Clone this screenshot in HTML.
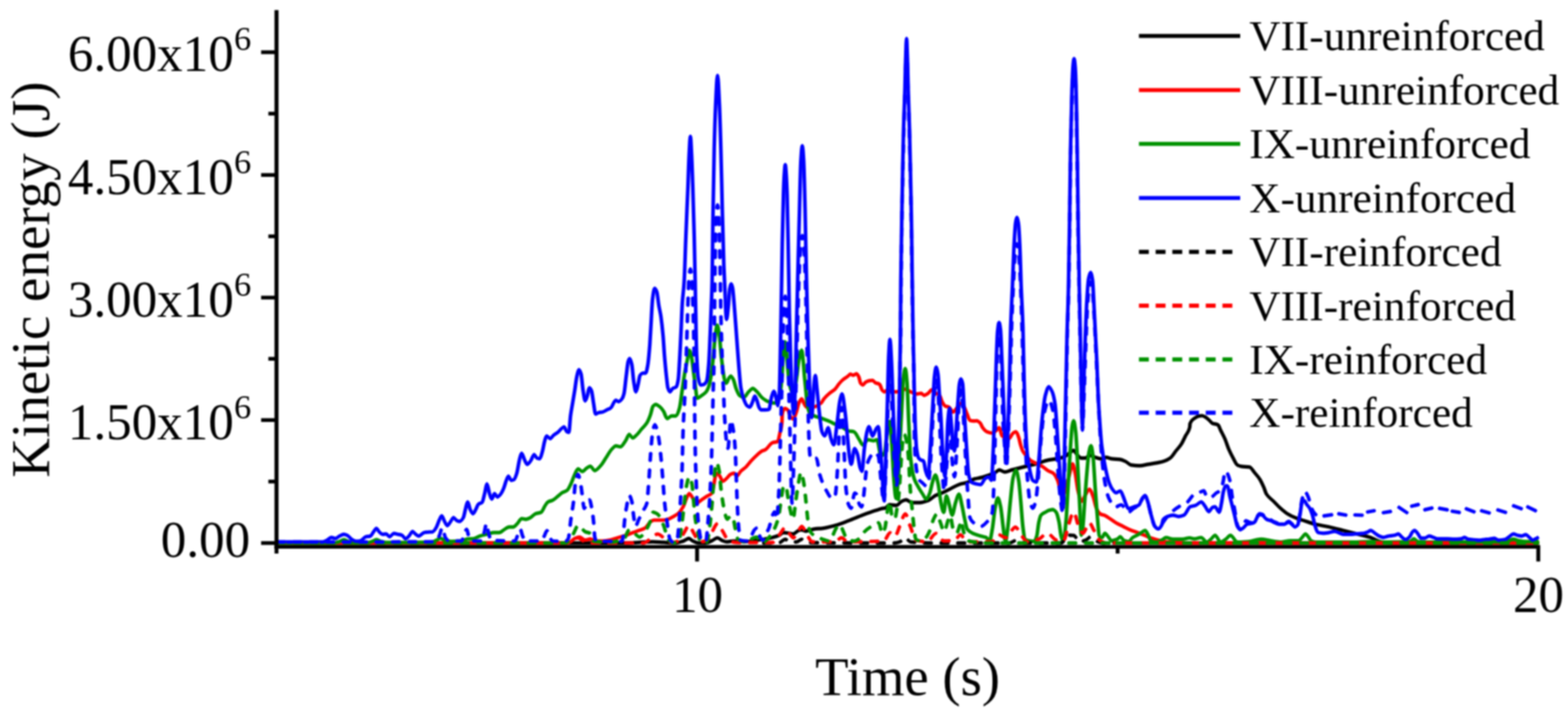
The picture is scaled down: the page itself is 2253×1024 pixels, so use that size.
<!DOCTYPE html>
<html lang="en"><head><meta charset="utf-8"><title>Kinetic energy vs time</title>
<style>html,body{margin:0;padding:0;background:#fff}body{width:2253px;height:1024px;overflow:hidden}svg{display:block;filter:blur(1px)}text{font-family:'Liberation Serif',serif;fill:#000}</style></head><body>
<svg width="2253" height="1024" viewBox="0 0 2253 1024">
<rect width="2253" height="1024" fill="#fff"/>
<g fill="none" stroke-linejoin="round" stroke-linecap="butt" stroke-width="3.0">
<g id="KS">
<path d="M397.5 779.9C565.0 779.9 732.5 779.9 900.0 779.9C903.3 779.9 906.6 779.5 909.9 779.4C919.2 778.9 928.5 778.2 937.8 778.2C943.2 778.2 948.5 778.7 953.8 778.9C959.2 779.2 964.5 779.9 969.8 779.9C973.8 779.9 977.8 778.4 981.8 777.1C984.5 776.2 987.1 773.4 989.8 773.4C991.8 773.4 993.8 776.2 995.8 777.1C998.4 778.3 1001.1 779.9 1003.8 779.9C1007.1 779.9 1010.4 779.9 1013.7 779.9C1017.1 779.9 1020.4 777.6 1023.7 776.2C1026.1 775.1 1028.4 772.5 1030.7 772.5C1033.0 772.5 1035.4 775.2 1037.7 776.2C1039.7 777.0 1041.7 778.2 1043.7 778.2C1047.0 778.2 1050.4 777.1 1053.7 777.1C1059.0 777.1 1064.3 777.8 1069.7 777.8C1076.3 777.8 1083.0 776.4 1089.6 775.5C1096.3 774.6 1103.0 773.6 1109.6 772.0C1112.9 771.2 1116.3 770.3 1119.6 768.8C1121.6 767.9 1123.6 764.8 1125.6 764.8C1128.2 764.8 1130.9 765.4 1133.6 765.8C1135.6 766.1 1137.6 766.8 1139.6 766.8C1142.2 766.8 1144.9 762.7 1147.6 761.8C1148.9 761.3 1150.2 760.8 1151.5 760.8C1153.5 760.8 1155.5 762.8 1157.5 762.8C1161.5 762.8 1165.5 760.3 1169.5 759.8C1173.5 759.3 1177.5 759.2 1181.5 758.8C1187.5 758.1 1193.5 756.4 1199.5 754.8C1206.1 753.0 1212.8 750.3 1219.5 747.8C1226.1 745.3 1232.8 742.3 1239.4 739.8C1246.1 737.3 1252.7 734.9 1259.4 732.8C1262.9 731.7 1266.5 729.8 1270.0 729.8C1270.5 729.8 1270.9 729.8 1271.4 729.8C1273.6 729.8 1275.8 724.8 1278.0 724.8C1281.3 724.8 1284.6 725.8 1288.0 725.8C1290.6 725.8 1293.3 721.0 1296.0 719.8C1298.0 718.9 1300.0 717.8 1302.0 717.8C1304.6 717.8 1307.3 721.8 1309.9 721.8C1313.9 721.8 1317.9 721.8 1321.9 721.8C1325.9 721.8 1329.9 720.3 1333.9 718.8C1337.2 717.6 1340.6 713.5 1343.9 711.8C1347.2 710.1 1350.6 709.3 1353.9 707.8C1357.9 706.1 1361.9 703.9 1365.9 701.9C1369.9 699.9 1373.9 697.2 1377.8 695.9C1381.8 694.5 1385.8 694.2 1389.8 692.9C1393.2 691.7 1396.5 688.8 1399.8 687.9C1403.1 686.9 1406.5 686.7 1409.8 685.9C1413.8 684.9 1417.8 683.3 1421.8 681.9C1424.5 680.9 1427.1 680.2 1429.8 678.9C1431.8 677.9 1433.8 674.9 1435.8 674.9C1438.4 674.9 1441.1 677.9 1443.8 677.9C1447.1 677.9 1450.4 675.8 1453.7 674.9C1457.7 673.8 1461.7 672.9 1465.7 671.9C1469.7 670.9 1473.7 669.9 1477.7 668.9C1481.7 667.9 1485.7 667.0 1489.7 665.9C1495.0 664.4 1500.3 662.1 1505.7 660.9C1509.7 660.1 1513.7 659.7 1517.7 658.9C1521.6 658.1 1525.6 657.5 1529.6 655.9C1532.3 654.9 1535.0 651.7 1537.6 649.9C1539.3 648.8 1541.0 646.9 1542.6 646.9C1544.3 646.9 1545.9 651.3 1547.6 652.9C1549.6 654.9 1551.6 657.9 1553.6 657.9C1555.6 657.9 1557.6 657.9 1559.6 657.9C1561.6 657.9 1563.6 653.9 1565.6 653.9C1567.6 653.9 1569.6 655.3 1571.6 655.9C1574.9 657.0 1578.2 658.9 1581.6 658.9C1584.2 658.9 1586.9 656.9 1589.6 656.9C1592.2 656.9 1594.9 658.6 1597.5 658.9C1601.5 659.4 1605.5 659.3 1609.5 659.9C1612.2 660.3 1614.9 661.7 1617.5 662.9C1620.2 664.2 1622.8 667.5 1625.5 667.9C1629.5 668.5 1633.5 668.9 1637.5 668.9C1641.5 668.9 1645.5 667.6 1649.5 666.9C1653.5 666.2 1657.5 665.7 1661.5 664.9C1665.4 664.1 1669.4 663.3 1673.4 661.9C1676.1 661.0 1678.8 659.8 1681.4 657.9C1684.1 656.0 1686.7 651.3 1689.4 647.9C1692.1 644.6 1694.7 642.1 1697.4 637.9C1699.4 634.8 1701.4 630.0 1703.4 626.0C1705.4 622.0 1707.4 622.1 1709.4 614.0C1709.6 613.2 1709.8 608.5 1710.0 608.0C1712.0 602.7 1714.0 602.5 1716.0 601.0C1718.0 599.5 1720.0 598.0 1722.0 597.6C1723.6 597.3 1725.3 597.0 1727.0 597.0C1728.6 597.0 1730.3 598.1 1732.0 599.0C1734.0 600.1 1736.0 602.2 1738.0 604.0C1739.3 605.2 1740.6 607.4 1742.0 608.0C1744.6 609.1 1747.3 608.7 1749.9 610.0C1751.3 610.6 1752.6 615.3 1753.9 618.0C1755.9 622.0 1757.9 625.4 1759.9 630.0C1761.9 634.5 1763.9 641.4 1765.9 645.9C1767.9 650.5 1769.9 654.3 1771.9 657.9C1773.9 661.6 1775.9 666.8 1777.9 667.9C1779.9 669.0 1781.9 669.6 1783.9 669.9C1787.9 670.5 1791.9 670.2 1795.9 670.9C1797.9 671.2 1799.9 675.5 1801.9 677.9C1804.5 681.1 1807.2 683.7 1809.9 687.9C1811.9 691.0 1813.9 695.4 1815.9 699.9C1817.2 702.8 1818.5 707.8 1819.8 709.8C1823.2 714.9 1826.5 716.5 1829.8 719.8C1833.2 723.2 1836.5 726.9 1839.8 729.8C1843.1 732.8 1846.5 735.7 1849.8 737.8C1853.8 740.3 1857.8 742.2 1861.8 743.8C1865.8 745.4 1869.8 746.5 1873.8 747.8C1879.1 749.5 1884.4 751.5 1889.7 752.8C1896.4 754.4 1903.1 755.3 1909.7 756.8C1916.4 758.3 1923.0 760.1 1929.7 761.8C1936.3 763.4 1943.0 765.1 1949.7 766.8C1956.3 768.5 1963.0 769.7 1969.6 772.0C1973.0 773.2 1976.3 775.5 1979.6 776.6C1983.0 777.8 1986.3 779.2 1989.6 779.4C1996.4 779.7 2003.2 779.9 2010.0 779.9C2076.8 779.9 2143.6 779.9 2210.4 779.9" stroke="#000000"/>
</g>
<use href="#KS" x="1.1" y="0"/>
<use href="#KS" x="-1.1" y="0"/>
<use href="#KS" x="0" y="1.1"/>
<use href="#KS" x="0" y="-1.1"/>
<g id="RS">
<path d="M397.5 779.9C536.7 779.9 675.8 779.9 815.0 779.9C816.8 779.9 818.5 778.7 820.3 777.7C822.0 776.8 823.7 774.4 825.4 773.6C827.9 772.5 830.5 771.3 833.0 771.3C835.5 771.3 838.1 775.7 840.6 775.7C843.1 775.7 845.7 774.2 848.2 774.2C850.8 774.2 853.3 777.1 855.8 777.1C859.2 777.1 862.6 777.1 866.0 777.1C869.4 777.1 872.8 776.3 876.1 775.7C879.5 775.0 882.9 773.7 886.3 772.7C889.7 771.8 893.1 770.9 896.4 769.8C899.8 768.8 903.2 767.3 906.6 766.0C910.0 764.8 913.4 763.5 916.8 762.2C920.1 761.0 923.5 760.4 926.9 758.4C929.4 756.9 932.0 751.3 934.5 749.5C936.2 748.4 937.9 747.0 939.6 747.0C943.8 747.0 948.1 747.0 952.3 747.0C954.8 747.0 957.4 746.4 959.9 745.7C962.4 745.1 965.0 743.4 967.5 741.9C970.1 740.5 972.6 739.2 975.1 736.9C977.2 734.9 979.4 731.8 981.5 728.0C983.2 724.9 984.9 718.6 986.5 715.3C987.8 712.8 989.1 708.9 990.4 708.9C992.0 708.9 993.7 713.0 995.4 715.3C997.1 717.6 998.8 722.9 1000.5 722.9C1003.0 722.9 1005.6 719.5 1008.1 717.8C1010.7 716.1 1013.2 714.4 1015.7 712.7C1018.3 711.0 1020.8 711.1 1023.4 707.7C1024.2 706.5 1025.0 699.2 1025.9 695.0C1026.7 690.7 1027.6 683.7 1028.4 682.3C1029.3 680.9 1030.1 679.7 1031.0 679.7C1032.2 679.7 1033.5 682.9 1034.8 684.8C1036.0 686.7 1037.3 691.2 1038.6 691.2C1040.3 691.2 1042.0 688.8 1043.7 687.4C1045.8 685.6 1047.9 681.8 1050.0 681.0C1051.7 680.4 1053.4 679.7 1055.1 679.7C1056.3 679.7 1057.6 683.6 1058.9 683.6C1060.6 683.6 1062.3 678.9 1064.0 677.2C1066.5 674.6 1069.0 673.3 1071.6 670.9C1074.1 668.4 1076.6 664.7 1079.2 662.0C1081.7 659.2 1084.3 656.7 1086.8 654.4C1089.3 652.1 1091.9 649.4 1094.4 648.0C1096.2 647.1 1097.9 646.9 1099.6 645.9C1103.0 644.1 1106.3 637.3 1109.6 635.9C1112.3 634.9 1114.9 635.4 1117.6 634.0C1118.6 633.4 1119.6 626.5 1120.6 622.0C1121.6 617.4 1122.6 617.0 1123.6 606.0C1123.7 604.6 1123.8 595.4 1124.0 594.7C1125.3 588.2 1126.6 586.7 1128.0 586.7C1129.3 586.7 1130.6 587.6 1132.0 588.7C1133.3 589.9 1134.6 597.2 1135.9 598.7C1137.3 600.3 1138.6 601.7 1139.9 601.7C1141.3 601.7 1142.6 596.4 1143.9 592.7C1145.3 589.1 1146.6 581.6 1147.9 578.8C1149.3 576.0 1150.6 572.8 1151.9 572.8C1152.9 572.8 1153.9 577.0 1154.9 578.8C1156.3 581.1 1157.6 584.7 1158.9 584.7C1161.9 584.7 1164.9 584.7 1167.9 584.7C1171.9 584.7 1175.9 582.0 1179.9 578.8C1181.2 577.7 1182.6 574.4 1183.9 572.8C1186.5 569.5 1189.2 567.1 1191.9 564.8C1194.5 562.5 1197.2 561.4 1199.9 558.8C1201.9 556.8 1203.9 553.1 1205.9 550.8C1207.8 548.5 1209.8 546.4 1211.8 544.8C1213.8 543.2 1215.8 542.3 1217.8 540.8C1219.2 539.8 1220.5 537.4 1221.8 537.4C1223.2 537.4 1224.5 538.8 1225.8 538.8C1227.5 538.8 1229.2 536.8 1230.8 536.8C1231.8 536.8 1232.8 538.9 1233.8 540.8C1234.8 542.7 1235.8 549.7 1236.8 550.8C1237.8 551.9 1238.8 552.8 1239.8 552.8C1241.1 552.8 1242.5 549.6 1243.8 548.8C1245.5 547.8 1247.1 547.0 1248.8 546.8C1250.5 546.6 1252.1 546.4 1253.8 546.4C1255.1 546.4 1256.4 549.1 1257.8 549.8C1259.8 550.8 1261.8 550.6 1263.8 551.8C1265.1 552.6 1266.4 559.4 1267.8 560.8C1268.8 561.8 1269.8 562.8 1270.8 562.8C1271.8 562.8 1272.8 560.8 1273.8 560.8C1278.4 560.8 1283.1 562.8 1287.7 562.8C1291.7 562.8 1295.7 558.8 1299.7 558.8C1302.7 558.8 1305.7 561.6 1308.7 562.8C1311.7 563.9 1314.7 565.8 1317.7 565.8C1319.7 565.8 1321.7 564.8 1323.7 564.8C1325.0 564.8 1326.3 567.8 1327.7 567.8C1329.7 567.8 1331.7 566.1 1333.7 564.8C1335.3 563.7 1337.0 559.8 1338.7 559.8C1339.7 559.8 1340.7 562.0 1341.7 562.8C1344.7 565.3 1347.7 565.2 1350.6 568.8C1351.6 570.0 1352.6 574.8 1353.6 576.8C1355.0 579.4 1356.3 582.0 1357.6 582.8C1359.6 583.9 1361.6 583.7 1363.6 584.7C1365.6 585.8 1367.6 591.7 1369.6 591.7C1371.6 591.7 1373.6 586.9 1375.6 584.7C1377.6 582.6 1379.6 578.8 1381.6 578.8C1382.9 578.8 1384.3 582.3 1385.6 584.7C1386.9 587.2 1388.3 591.6 1389.6 594.7C1390.9 597.9 1392.3 603.3 1393.6 603.7C1395.6 604.4 1397.6 604.7 1399.6 604.7C1400.9 604.7 1402.2 604.3 1403.6 604.3C1405.2 604.3 1406.9 606.0 1408.6 607.7C1409.6 608.8 1410.7 612.5 1411.8 614.0C1413.8 616.7 1415.8 619.1 1417.8 620.0C1420.5 621.1 1423.1 622.0 1425.8 622.0C1427.8 622.0 1429.8 619.6 1431.8 618.0C1433.1 616.9 1434.4 614.0 1435.8 614.0C1437.1 614.0 1438.4 624.9 1439.8 626.0C1443.1 628.6 1446.4 630.0 1449.7 630.0C1451.7 630.0 1453.7 623.4 1455.7 622.0C1457.1 621.0 1458.4 620.0 1459.7 620.0C1461.1 620.0 1462.4 624.4 1463.7 628.0C1464.7 630.7 1465.7 636.7 1466.7 639.9C1467.7 643.1 1468.7 646.1 1469.7 647.9C1471.7 651.6 1473.7 653.6 1475.7 655.9C1477.7 658.2 1479.7 660.6 1481.7 661.9C1484.4 663.7 1487.0 664.6 1489.7 665.9C1492.4 667.2 1495.0 668.3 1497.7 669.9C1500.3 671.5 1503.0 674.3 1505.7 675.9C1508.3 677.5 1511.0 677.8 1513.7 679.9C1515.7 681.5 1517.7 685.3 1519.7 689.9C1521.0 693.0 1522.3 700.1 1523.6 703.9C1524.8 707.0 1525.9 712.0 1527.0 712.0C1528.7 712.0 1530.3 705.0 1532.0 700.0C1533.7 695.0 1535.3 686.2 1537.0 680.0C1538.3 675.0 1539.7 666.0 1541.0 666.0C1542.3 666.0 1543.7 674.0 1545.0 680.0C1546.3 686.0 1547.7 699.5 1549.0 705.0C1550.7 711.8 1552.3 720.0 1554.0 720.0C1555.7 720.0 1557.3 714.6 1559.0 712.0C1561.1 708.7 1563.3 702.6 1565.4 702.6C1567.1 702.6 1568.8 708.4 1570.5 712.7C1572.2 717.0 1573.9 727.0 1575.6 730.5C1577.3 734.0 1579.0 737.0 1580.7 738.0C1583.2 739.5 1585.8 739.5 1588.3 740.7C1590.9 741.9 1593.4 744.0 1596.0 745.7C1598.5 747.4 1601.0 749.3 1603.5 750.8C1606.9 752.8 1610.3 754.3 1613.7 756.0C1617.1 757.7 1620.4 759.6 1623.8 761.0C1627.2 762.4 1630.6 763.5 1634.0 764.8C1637.3 766.1 1640.7 767.3 1644.0 768.6C1647.4 769.9 1650.9 771.6 1654.3 772.8C1657.7 773.9 1661.0 775.0 1664.4 775.8C1669.6 777.0 1674.8 778.1 1680.0 778.6C1686.7 779.3 1693.3 779.9 1700.0 779.9C1870.1 779.9 2040.3 779.9 2210.4 779.9" stroke="#ff0000"/>
</g>
<use href="#RS" x="1.1" y="0"/>
<use href="#RS" x="-1.1" y="0"/>
<use href="#RS" x="0" y="1.1"/>
<use href="#RS" x="0" y="-1.1"/>
<g id="GS">
<path d="M397.5 779.9C425.0 779.9 452.5 779.9 480.0 779.8C482.3 779.8 484.7 778.8 487.0 778.1C489.3 777.3 491.7 775.2 494.0 775.2C496.0 775.2 498.0 776.8 500.0 777.5C502.7 778.4 505.3 779.8 508.0 779.8C515.3 779.8 522.7 779.6 530.0 779.2C532.0 779.1 534.0 777.6 536.0 776.9C537.7 776.3 539.3 775.2 541.0 775.2C543.0 775.2 545.0 776.9 547.0 777.5C549.7 778.2 552.3 779.2 555.0 779.2C576.7 779.2 598.3 779.1 620.0 778.6C622.3 778.6 624.7 776.8 627.0 775.8C628.9 774.9 630.8 773.2 632.7 773.2C634.8 773.2 636.9 775.2 639.0 775.8C642.0 776.6 645.0 777.5 648.0 777.5C652.7 777.5 657.3 777.3 662.0 776.9C665.3 776.7 668.7 774.2 672.0 774.0C674.5 773.9 677.1 774.0 679.6 773.9C682.9 773.7 686.3 770.8 689.6 769.8C693.6 768.5 697.6 767.8 701.6 766.8C704.2 766.1 706.9 764.8 709.6 764.8C712.2 764.8 714.9 764.8 717.5 764.8C720.2 764.8 722.9 761.2 725.5 759.8C727.5 758.7 729.5 756.8 731.5 756.8C733.5 756.8 735.5 756.8 737.5 756.8C739.5 756.8 741.5 753.7 743.5 751.8C745.5 749.8 747.5 744.8 749.5 744.8C751.5 744.8 753.5 745.8 755.5 745.8C757.5 745.8 759.5 744.7 761.5 743.8C764.1 742.6 766.8 738.8 769.5 737.8C772.1 736.8 774.8 737.0 777.5 735.8C779.5 734.9 781.5 728.7 783.4 725.8C784.8 723.9 786.1 721.6 787.4 720.8C789.4 719.7 791.4 719.7 793.4 718.8C796.1 717.6 798.8 715.0 801.4 712.8C803.5 711.2 805.6 709.0 807.6 707.7C810.2 706.1 812.7 705.9 815.2 703.9C816.9 702.5 818.6 698.5 820.3 695.0C822.0 691.5 823.7 685.8 825.4 682.3C827.1 678.8 828.8 673.4 830.5 673.4C832.6 673.4 834.7 677.2 836.8 677.2C838.9 677.2 841.0 673.4 843.1 672.1C844.8 671.1 846.5 669.6 848.2 669.6C850.3 669.6 852.5 675.9 854.6 675.9C857.5 675.9 860.5 671.6 863.5 668.3C866.0 665.5 868.5 660.7 871.1 656.9C873.6 653.1 876.1 648.1 878.7 645.5C880.8 643.3 882.9 640.4 885.0 640.4C887.1 640.4 889.3 641.7 891.4 641.7C893.9 641.7 896.4 636.4 899.0 632.8C900.7 630.4 902.4 623.9 904.1 623.9C905.8 623.9 907.4 629.0 909.1 629.0C910.8 629.0 912.5 626.7 914.2 625.2C916.8 622.9 919.3 619.3 921.8 616.3C924.4 613.3 926.9 611.4 929.4 607.4C931.1 604.8 932.8 600.6 934.5 596.0C935.8 592.5 937.1 584.7 938.3 583.3C939.6 581.9 940.9 580.8 942.1 580.8C944.2 580.8 946.4 582.8 948.5 584.6C950.2 586.0 951.9 588.3 953.6 590.9C955.2 593.5 956.9 601.1 958.6 601.1C960.7 601.1 962.9 597.3 965.0 597.3C967.1 597.3 969.2 597.3 971.3 597.3C973.0 597.3 974.7 591.7 976.4 585.8C977.7 581.5 978.9 568.9 980.2 560.5C981.5 552.0 982.7 542.4 984.0 535.1C985.2 528.2 986.4 522.7 987.6 516.8C988.6 512.0 989.6 502.9 990.6 502.9C991.6 502.9 992.6 508.3 993.6 512.8C994.6 517.4 995.6 527.3 996.6 534.8C997.5 541.5 998.4 549.1 999.2 555.4C1000.1 561.4 1000.9 571.9 1001.8 571.9C1003.9 571.9 1006.0 569.5 1008.1 568.1C1010.2 566.6 1012.4 565.5 1014.5 563.0C1015.7 561.5 1017.0 558.9 1018.3 555.4C1019.5 551.8 1020.8 545.4 1022.1 537.6C1022.9 532.6 1023.7 524.5 1024.5 516.8C1025.5 507.5 1026.5 492.6 1027.5 484.9C1028.5 477.2 1029.5 466.9 1030.5 466.9C1031.5 466.9 1032.5 474.4 1033.5 480.9C1034.5 487.4 1035.5 504.2 1036.5 512.8C1038.1 526.0 1039.6 540.7 1041.1 545.2C1042.0 547.7 1042.8 550.3 1043.7 550.3C1044.9 550.3 1046.2 544.3 1047.5 542.7C1048.3 541.6 1049.2 540.2 1050.0 540.2C1051.3 540.2 1052.5 542.8 1053.8 545.2C1055.1 547.6 1056.3 554.7 1057.6 557.9C1059.3 562.2 1061.0 566.9 1062.7 568.1C1064.8 569.5 1066.9 570.6 1069.0 570.6C1071.2 570.6 1073.3 565.0 1075.4 563.0C1077.5 561.0 1079.6 557.9 1081.7 557.9C1083.8 557.9 1086.0 561.0 1088.1 563.0C1090.2 565.0 1092.3 568.7 1094.4 570.6C1096.3 572.3 1098.1 573.7 1100.0 574.8C1101.3 575.6 1102.7 576.3 1104.0 576.8C1106.7 577.7 1109.3 578.8 1112.0 578.8C1114.0 578.8 1116.0 578.1 1118.0 576.8C1119.0 576.1 1120.0 570.4 1121.0 564.8C1121.8 559.9 1122.7 551.1 1123.6 540.8C1124.2 532.9 1124.9 515.7 1125.6 508.9C1126.4 500.6 1127.2 490.9 1128.0 490.9C1128.8 490.9 1129.6 501.4 1130.4 508.9C1131.2 516.9 1132.1 533.7 1133.0 540.8C1133.8 547.9 1134.7 553.8 1135.6 556.8C1136.7 560.7 1137.8 564.8 1138.9 564.8C1140.1 564.8 1141.2 560.7 1142.3 556.8C1143.2 553.8 1144.1 546.8 1144.9 540.8C1145.9 533.9 1146.9 521.8 1147.9 516.8C1149.3 510.2 1150.6 502.9 1151.9 502.9C1152.6 502.9 1153.3 511.0 1153.9 516.8C1154.6 522.7 1155.3 533.5 1155.9 540.8C1156.6 548.1 1157.3 554.2 1157.9 560.8C1158.6 567.6 1159.3 577.3 1160.0 581.0C1161.2 587.4 1162.4 592.4 1163.6 593.5C1169.5 598.9 1175.5 598.6 1181.4 601.0C1184.8 602.4 1188.1 603.5 1191.5 605.0C1194.0 606.1 1196.5 607.5 1199.0 608.7C1202.3 610.2 1205.7 611.4 1209.0 613.0C1212.5 614.7 1215.9 618.3 1219.4 619.0C1221.9 619.5 1224.5 619.4 1227.0 620.0C1229.6 620.6 1232.1 627.7 1234.7 631.5C1236.4 634.0 1238.0 639.0 1239.7 639.0C1242.3 639.0 1244.8 631.5 1247.4 631.5C1249.9 631.5 1252.5 633.0 1255.0 633.0C1256.7 633.0 1258.3 631.5 1260.0 631.5C1262.0 631.5 1264.0 655.0 1266.0 655.0C1267.7 655.0 1269.3 653.0 1271.0 650.0C1272.3 647.6 1273.7 627.2 1275.0 620.0C1276.2 613.7 1277.3 605.0 1278.5 605.0C1279.5 605.0 1280.5 626.3 1281.5 640.0C1282.5 653.7 1283.5 678.6 1284.5 690.0C1285.5 701.4 1286.5 716.0 1287.5 716.0C1288.5 716.0 1289.5 702.2 1290.5 690.0C1291.3 679.8 1292.2 656.7 1293.0 640.0C1293.8 623.3 1294.7 605.8 1295.5 590.0C1296.3 574.2 1297.2 552.5 1298.0 545.0C1298.9 536.9 1299.8 529.0 1300.7 529.0C1301.6 529.0 1302.4 539.5 1303.3 550.0C1304.1 559.7 1304.9 588.9 1305.7 606.0C1306.6 624.5 1307.4 648.7 1308.3 657.0C1310.0 673.3 1311.7 681.7 1313.4 687.0C1315.1 692.2 1316.7 694.4 1318.4 697.5C1320.9 702.2 1323.5 706.2 1326.0 710.0C1327.7 712.5 1329.3 717.0 1331.0 717.0C1332.7 717.0 1334.3 712.2 1336.0 708.0C1337.3 704.6 1338.7 696.1 1340.0 692.0C1341.3 687.9 1342.7 682.0 1344.0 682.0C1345.3 682.0 1346.7 689.1 1348.0 695.0C1349.3 700.9 1350.7 715.9 1352.0 722.0C1353.3 728.1 1354.7 736.0 1356.0 736.0C1357.3 736.0 1358.6 712.0 1359.9 712.0C1361.3 712.0 1362.6 720.3 1364.0 725.0C1365.3 729.6 1366.7 740.0 1368.0 740.0C1369.7 740.0 1371.3 727.0 1373.0 722.0C1374.6 717.2 1376.2 709.5 1377.8 709.5C1379.2 709.5 1380.6 719.0 1382.0 725.0C1383.3 730.4 1384.5 738.4 1385.8 744.0C1387.1 749.9 1388.5 758.2 1389.8 760.0C1392.5 763.6 1395.1 764.7 1397.8 766.0C1401.8 767.9 1405.8 768.8 1409.8 770.0C1412.5 770.8 1415.1 771.0 1417.8 772.3C1419.1 773.0 1420.5 776.9 1421.8 776.9C1423.1 776.9 1424.5 767.2 1425.8 760.0C1427.1 752.8 1428.5 736.7 1429.8 730.0C1431.1 723.3 1432.5 715.0 1433.8 715.0C1435.1 715.0 1436.5 721.8 1437.8 728.0C1439.1 734.2 1440.5 751.1 1441.8 760.0C1442.8 766.7 1443.8 777.5 1444.8 777.5C1445.8 777.5 1446.8 767.3 1447.8 760.0C1449.1 750.5 1450.4 732.1 1451.7 720.0C1453.0 707.6 1454.4 691.5 1455.7 686.0C1457.0 680.5 1458.4 675.0 1459.7 675.0C1461.0 675.0 1462.4 682.6 1463.7 690.0C1464.7 695.6 1465.7 709.1 1466.7 720.0C1467.7 730.9 1468.7 747.9 1469.7 756.0C1470.7 764.1 1471.7 773.6 1472.7 774.4C1475.0 776.2 1477.4 776.6 1479.7 776.9C1481.7 777.2 1483.7 777.5 1485.7 777.5C1487.0 777.5 1488.4 773.9 1489.7 769.8C1490.7 766.7 1491.7 754.2 1492.7 749.8C1493.7 745.4 1494.7 741.0 1495.7 739.8C1497.7 737.4 1499.7 736.9 1501.7 735.8C1503.7 734.7 1505.7 733.4 1507.7 732.8C1509.4 732.3 1511.0 731.8 1512.7 731.8C1514.4 731.8 1516.0 733.6 1517.7 735.8C1519.0 737.6 1520.4 743.6 1521.7 749.8C1522.7 754.5 1523.7 765.8 1524.7 769.8C1525.7 773.6 1526.6 778.1 1527.6 778.1C1528.9 778.1 1530.3 763.3 1531.6 749.8C1532.6 739.7 1533.6 716.5 1534.6 699.9C1535.6 683.3 1536.6 664.4 1537.6 650.0C1538.6 635.6 1539.6 617.9 1540.6 612.0C1541.3 608.1 1541.9 604.0 1542.6 604.0C1543.6 604.0 1544.6 611.9 1545.6 620.0C1546.6 628.1 1547.6 651.8 1548.6 670.0C1549.6 688.2 1550.6 710.0 1551.6 729.8C1552.3 743.0 1552.9 769.0 1553.6 769.0C1554.3 769.0 1554.9 764.2 1555.6 759.8C1556.6 753.2 1557.6 733.1 1558.6 719.8C1559.6 706.5 1560.6 691.4 1561.6 680.0C1562.6 668.6 1563.6 655.0 1564.6 650.0C1565.6 645.0 1566.6 640.0 1567.6 640.0C1568.6 640.0 1569.6 648.2 1570.6 656.0C1571.6 663.8 1572.6 686.1 1573.6 700.0C1574.6 713.9 1575.6 728.4 1576.6 739.8C1577.6 751.2 1578.6 768.7 1579.6 769.8C1580.9 771.3 1582.2 772.0 1583.6 772.0C1584.9 772.0 1586.2 765.8 1587.6 765.8C1588.9 765.8 1590.2 768.3 1591.5 769.8C1593.5 771.9 1595.5 776.6 1597.5 776.6C1600.2 776.6 1602.9 775.5 1605.5 774.3C1606.9 773.7 1608.2 770.9 1609.5 770.9C1611.5 770.9 1613.5 776.0 1615.5 776.6C1617.5 777.3 1619.5 777.8 1621.5 777.8C1623.5 777.8 1625.5 773.4 1627.5 772.0C1630.2 770.2 1632.8 769.4 1635.5 767.8C1637.5 766.6 1639.5 764.9 1641.5 763.8C1642.8 763.0 1644.1 761.8 1645.5 761.8C1646.8 761.8 1648.1 765.4 1649.5 767.8C1650.8 770.1 1652.1 775.9 1653.5 776.6C1656.1 778.1 1658.8 778.9 1661.5 778.9C1664.1 778.9 1666.8 776.8 1669.4 775.5C1671.4 774.5 1673.4 772.0 1675.4 772.0C1678.8 772.0 1682.1 774.3 1685.4 774.3C1690.1 774.3 1694.7 774.3 1699.4 774.3C1702.7 774.3 1706.1 772.5 1709.4 772.5C1711.6 772.5 1713.8 773.9 1716.0 773.9C1719.3 773.9 1722.6 772.0 1726.0 772.0C1728.6 772.0 1731.3 778.5 1734.0 778.5C1736.0 778.5 1738.0 775.9 1740.0 774.3C1742.0 772.7 1744.0 768.8 1745.9 768.8C1748.6 768.8 1751.3 778.5 1753.9 778.5C1756.6 778.5 1759.3 775.7 1761.9 773.9C1763.9 772.5 1765.9 768.8 1767.9 768.8C1771.2 768.8 1774.6 778.5 1777.9 778.5C1783.2 778.5 1788.6 778.1 1793.9 777.8C1799.9 777.4 1805.9 774.3 1811.9 774.3C1816.5 774.3 1821.2 775.9 1825.8 776.6C1830.5 777.3 1835.2 778.5 1839.8 778.5C1844.5 778.5 1849.1 776.6 1853.8 776.6C1857.8 776.6 1861.8 776.6 1865.8 776.6C1867.8 776.6 1869.8 772.9 1871.8 770.9C1873.1 769.6 1874.4 766.8 1875.8 766.8C1877.1 766.8 1878.4 769.3 1879.8 770.9C1881.1 772.5 1882.4 775.9 1883.8 776.6C1885.8 777.7 1887.8 778.5 1889.7 778.5C1896.4 778.5 1903.1 778.5 1909.7 778.5C1923.0 778.5 1936.3 778.5 1949.7 778.5C1956.3 778.5 1963.0 777.8 1969.6 777.8C1976.3 777.8 1983.0 778.5 1989.6 778.5C2001.6 778.5 2013.6 778.3 2025.6 777.8C2027.6 777.7 2029.6 773.9 2031.5 773.9C2033.5 773.9 2035.5 777.5 2037.5 777.8C2041.5 778.2 2045.5 778.5 2049.5 778.5C2062.8 778.5 2076.2 778.5 2089.5 778.5C2102.8 778.5 2116.1 778.2 2129.4 778.2C2139.6 778.2 2149.8 778.2 2160.0 778.2C2160.8 778.2 2161.7 778.1 2162.5 778.0C2164.5 777.7 2166.5 776.8 2168.5 776.2C2170.5 775.6 2172.5 774.3 2174.5 774.3C2177.1 774.3 2179.8 776.2 2182.5 776.6C2185.8 777.2 2189.1 777.8 2192.5 777.8C2198.4 777.8 2204.4 777.8 2210.4 777.5" stroke="#009200"/>
</g>
<use href="#GS" x="1.1" y="0"/>
<use href="#GS" x="-1.1" y="0"/>
<use href="#GS" x="0" y="1.1"/>
<use href="#GS" x="0" y="-1.1"/>
<g id="BS">
<path d="M397.5 778.4C419.6 778.4 441.8 778.4 463.9 778.4C465.9 778.4 467.9 776.8 469.9 775.8C471.9 774.7 473.9 771.8 475.9 771.8C477.9 771.8 479.9 773.4 481.9 773.4C483.9 773.4 485.9 770.7 487.9 769.8C489.9 768.8 491.9 767.4 493.9 767.4C495.5 767.4 497.2 768.1 498.8 768.8C501.2 769.7 503.5 773.4 505.8 774.8C507.8 775.9 509.8 777.4 511.8 777.4C513.8 777.4 515.8 777.1 517.8 776.8C520.5 776.3 523.1 771.2 525.8 770.8C527.8 770.4 529.8 770.5 531.8 770.2C533.5 769.8 535.1 765.9 536.8 763.8C538.1 762.1 539.5 758.8 540.8 758.8C542.1 758.8 543.5 762.5 544.8 763.8C546.4 765.3 548.1 767.4 549.8 767.4C551.4 767.4 553.1 766.8 554.8 766.8C556.4 766.8 558.1 770.8 559.8 770.8C561.8 770.8 563.8 766.2 565.8 766.2C567.8 766.2 569.7 766.9 571.7 767.4C573.7 767.8 575.7 768.0 577.7 768.8C579.4 769.4 581.1 773.8 582.7 773.8C584.4 773.8 586.1 771.4 587.7 769.8C589.4 768.1 591.1 763.4 592.7 763.4C594.0 763.4 595.4 765.8 596.7 766.8C598.4 767.9 600.0 769.8 601.7 769.8C604.4 769.8 607.0 765.2 609.7 764.8C611.7 764.4 613.7 764.3 615.7 764.2C617.7 764.0 619.7 764.0 621.7 763.8C623.3 763.6 625.0 760.4 626.7 757.8C628.3 755.1 630.0 749.0 631.7 745.8C632.7 743.9 633.7 740.8 634.7 740.8C636.0 740.8 637.3 746.5 638.7 748.8C640.0 751.1 641.3 754.8 642.6 754.8C644.3 754.8 646.0 750.9 647.6 748.8C649.0 747.1 650.3 743.4 651.6 743.4C653.3 743.4 655.0 747.2 656.6 747.8C658.0 748.3 659.3 748.8 660.6 748.8C662.3 748.8 663.9 746.5 665.6 743.8C666.9 741.6 668.3 732.3 669.6 727.8C670.4 725.2 671.2 720.8 672.0 720.8C673.2 720.8 674.4 729.4 675.6 731.8C676.9 734.5 678.3 737.8 679.6 737.8C680.9 737.8 682.3 734.1 683.6 731.8C684.9 729.5 686.3 724.7 687.6 723.8C689.2 722.7 690.9 723.1 692.6 721.8C693.9 720.8 695.2 713.0 696.6 707.8C697.6 704.0 698.6 694.9 699.6 694.9C700.9 694.9 702.2 706.1 703.6 709.8C704.6 712.7 705.6 716.8 706.6 716.8C707.9 716.8 709.2 708.8 710.6 708.8C711.9 708.8 713.2 713.8 714.5 713.8C715.9 713.8 717.2 712.2 718.5 710.8C720.2 709.1 721.9 705.6 723.5 701.9C724.9 698.8 726.2 693.0 727.5 689.9C728.5 687.5 729.5 683.9 730.5 683.9C731.9 683.9 733.2 689.9 734.5 689.9C735.8 689.9 737.2 689.5 738.5 688.9C739.8 688.3 741.2 684.0 742.5 679.9C743.8 675.8 745.2 664.9 746.5 659.9C747.5 656.2 748.5 650.9 749.5 650.9C750.8 650.9 752.2 657.3 753.5 659.9C754.8 662.5 756.2 666.9 757.5 666.9C759.1 666.9 760.8 664.1 762.5 661.9C764.1 659.8 765.8 652.9 767.5 652.9C768.8 652.9 770.1 657.4 771.5 657.9C772.8 658.5 774.1 658.9 775.5 658.9C776.8 658.9 778.1 652.6 779.5 647.9C780.5 644.4 781.5 637.3 782.5 634.0C783.4 630.6 784.4 626.0 785.4 626.0C787.1 626.0 788.8 630.0 790.4 630.0C792.1 630.0 793.8 626.3 795.4 625.0C797.4 623.4 799.4 622.6 801.4 621.0C803.4 619.4 805.4 616.5 807.4 615.0C808.4 614.2 809.4 613.0 810.4 613.0C811.7 613.0 813.1 619.2 814.4 620.0C815.4 620.5 816.4 621.0 817.4 621.0C818.2 621.0 819.0 602.9 819.8 596.7C820.8 589.2 821.8 584.7 822.8 578.8C823.8 572.8 824.8 567.1 825.8 560.8C826.8 554.5 827.8 545.2 828.8 540.8C829.8 536.4 830.8 530.8 831.8 530.8C832.8 530.8 833.8 533.6 834.8 536.8C835.8 540.0 836.8 554.6 837.8 560.8C838.8 566.9 839.8 575.8 840.8 575.8C841.8 575.8 842.8 571.7 843.8 568.8C844.8 565.8 845.8 556.8 846.8 556.8C847.8 556.8 848.8 558.6 849.8 560.8C850.8 563.0 851.8 573.1 852.8 578.8C853.8 584.4 854.8 594.7 855.8 594.7C857.1 594.7 858.4 593.1 859.8 592.7C861.8 592.2 863.8 592.2 865.8 591.7C867.8 591.2 869.8 589.7 871.8 588.7C873.8 587.7 875.8 587.4 877.8 585.7C879.1 584.7 880.4 580.8 881.7 578.8C882.7 577.3 883.7 574.8 884.7 574.8C886.1 574.8 887.4 576.8 888.7 576.8C890.4 576.8 892.1 574.9 893.7 572.8C894.7 571.5 895.7 568.8 896.7 564.8C897.7 560.8 898.7 548.5 899.7 540.8C900.7 533.2 901.7 521.9 902.7 518.8C903.4 516.8 904.0 514.8 904.7 514.8C905.7 514.8 906.7 518.8 907.7 522.8C908.7 526.9 909.7 542.7 910.7 548.8C911.7 554.9 912.7 562.8 913.7 562.8C914.7 562.8 915.7 556.7 916.7 552.8C917.7 548.9 918.7 540.1 919.7 538.8C921.0 537.0 922.4 535.8 923.7 535.8C925.0 535.8 926.3 535.8 927.7 535.8C928.7 535.8 929.7 530.2 930.7 524.8C931.7 519.5 932.7 507.7 933.7 494.9C934.3 486.3 935.0 471.9 935.7 460.9C936.3 449.9 937.0 434.2 937.7 429.0C938.7 421.1 939.7 414.0 940.7 414.0C941.7 414.0 942.7 416.3 943.7 419.0C944.7 421.6 945.7 433.0 946.7 439.0C947.7 444.9 948.7 448.3 949.7 454.9C950.6 461.5 951.6 470.0 952.6 480.9C953.3 488.1 954.0 500.7 954.6 508.9C955.6 521.1 956.6 531.8 957.6 540.8C958.3 546.8 959.0 554.6 959.6 556.8C960.6 560.1 961.6 562.8 962.6 562.8C964.0 562.8 965.3 558.6 966.6 557.8C968.3 556.8 970.0 557.1 971.6 555.8C972.6 555.0 973.6 550.9 974.6 544.8C975.3 540.7 975.9 526.3 976.6 514.8C977.3 503.4 977.9 489.1 978.6 474.9C979.2 462.5 979.8 443.9 980.4 435.0C981.3 421.2 982.2 419.3 983.0 405.0C983.9 392.3 984.6 360.5 985.5 340.0C986.4 315.3 987.4 294.2 988.4 270.0C989.0 254.5 989.6 233.6 990.2 222.0C990.8 210.7 991.4 195.5 992.0 195.5C992.6 195.5 993.1 210.8 993.7 222.0C994.3 233.7 994.9 252.4 995.5 270.0C996.1 290.9 996.9 311.6 997.5 340.0C998.0 357.6 998.4 382.3 998.9 405.0C999.2 422.5 999.5 444.1 999.9 460.0C1000.2 479.0 1000.6 500.9 1001.0 510.0C1001.8 526.6 1002.5 537.9 1003.2 542.0C1004.4 548.3 1005.5 553.0 1006.6 553.0C1008.3 553.0 1009.9 552.6 1011.6 552.0C1012.9 551.5 1014.2 550.0 1015.5 547.0C1016.4 544.9 1017.3 535.7 1018.2 525.0C1018.9 517.2 1019.6 500.3 1020.2 485.0C1020.8 473.5 1021.2 458.3 1021.8 445.0C1022.2 431.7 1022.8 425.3 1023.2 405.0C1023.6 390.1 1024.0 344.7 1024.3 320.0C1025.0 279.7 1025.5 238.8 1026.2 215.0C1026.9 185.9 1027.6 165.3 1028.3 150.0C1029.2 131.6 1030.1 108.0 1031.0 108.0C1031.9 108.0 1032.8 131.6 1033.7 150.0C1034.4 165.3 1035.1 189.4 1035.8 215.0C1036.5 238.3 1037.2 273.8 1037.8 300.0C1038.6 328.8 1039.3 359.1 1040.0 380.0C1040.7 398.1 1041.3 411.7 1042.0 425.0C1042.5 437.6 1043.2 459.0 1043.8 459.0C1044.7 459.0 1045.6 448.3 1046.5 440.0C1047.2 434.0 1047.8 418.8 1048.5 415.0C1049.2 411.2 1049.8 407.5 1050.5 407.5C1051.2 407.5 1051.8 410.2 1052.5 413.0C1053.5 417.2 1054.5 433.1 1055.5 444.9C1056.5 456.8 1057.5 471.6 1058.5 484.9C1059.5 498.2 1060.5 513.0 1061.5 524.8C1062.5 536.7 1063.5 550.8 1064.5 556.8C1065.8 564.7 1067.2 569.2 1068.5 572.8C1070.1 577.3 1071.8 581.4 1073.5 582.8C1074.8 583.8 1076.1 584.7 1077.5 584.7C1078.8 584.7 1080.1 579.8 1081.5 576.8C1082.5 574.5 1083.5 568.8 1084.5 568.8C1085.5 568.8 1086.5 572.3 1087.5 574.8C1088.5 577.3 1089.5 582.8 1090.5 584.7C1091.5 586.7 1092.5 588.7 1093.4 588.7C1095.4 588.7 1097.4 588.7 1099.4 588.7C1101.4 588.7 1103.4 588.6 1105.4 587.7C1105.6 587.7 1105.8 585.7 1106.0 584.7C1107.0 579.4 1108.0 572.0 1109.0 568.8C1110.0 565.5 1111.0 561.8 1112.0 561.8C1113.0 561.8 1114.0 567.1 1115.0 570.8C1115.8 573.9 1116.7 582.8 1117.6 582.8C1118.3 582.8 1119.1 575.6 1119.8 565.0C1120.2 559.5 1120.6 536.8 1121.0 520.0C1121.4 499.6 1121.9 475.2 1122.3 450.0C1122.9 419.4 1123.5 378.4 1124.0 350.0C1124.6 323.3 1125.1 295.8 1125.7 280.0C1126.1 266.0 1126.6 254.2 1127.1 248.0C1127.5 242.5 1127.9 236.3 1128.3 236.3C1128.7 236.3 1129.1 242.5 1129.5 248.0C1130.0 254.2 1130.5 266.0 1131.0 280.0C1131.5 295.8 1132.0 323.3 1132.5 350.0C1133.1 378.4 1133.7 425.0 1134.2 450.0C1134.9 479.5 1135.6 500.8 1136.2 520.0C1136.9 539.7 1137.6 559.4 1138.3 570.0C1139.0 581.4 1139.8 595.0 1140.5 595.0C1141.2 595.0 1141.8 577.0 1142.5 560.0C1143.1 545.1 1143.7 504.9 1144.2 480.0C1144.9 451.5 1145.6 426.7 1146.2 400.0C1147.1 366.7 1147.9 330.8 1148.8 300.0C1149.4 275.0 1150.1 240.8 1150.8 230.0C1151.5 219.2 1152.1 209.0 1152.8 209.0C1153.4 209.0 1154.1 219.4 1154.7 230.0C1155.4 241.2 1156.1 272.3 1156.8 300.0C1157.4 327.2 1158.1 370.4 1158.8 400.0C1159.4 429.6 1160.1 457.1 1160.8 480.0C1161.4 502.9 1162.1 522.3 1162.8 540.0C1163.3 555.5 1163.9 573.7 1164.5 582.0C1165.1 590.5 1165.7 600.0 1166.3 600.0C1167.2 600.0 1168.1 569.6 1169.0 560.0C1169.8 551.1 1170.7 539.0 1171.5 539.0C1172.3 539.0 1173.2 552.4 1174.0 560.0C1175.0 569.1 1176.0 581.4 1177.0 590.0C1178.3 601.5 1179.7 616.7 1181.0 620.0C1182.3 623.3 1183.7 626.0 1185.0 626.0C1186.7 626.0 1188.3 614.0 1190.0 614.0C1191.3 614.0 1192.7 626.2 1194.0 630.0C1195.3 633.8 1196.7 639.0 1198.0 639.0C1199.7 639.0 1201.3 618.1 1203.0 606.0C1204.3 596.8 1205.5 581.6 1206.8 575.7C1207.8 571.0 1208.8 565.5 1209.8 565.5C1211.3 565.5 1212.9 581.2 1214.4 593.0C1215.6 602.3 1216.8 618.9 1218.0 631.0C1218.9 640.0 1219.8 651.7 1220.7 657.0C1221.5 661.5 1222.2 667.0 1223.0 667.0C1224.7 667.0 1226.3 644.0 1228.0 644.0C1229.3 644.0 1230.7 648.2 1232.0 652.0C1233.3 655.8 1234.7 668.3 1236.0 672.0C1236.8 674.3 1237.7 677.0 1238.5 677.0C1239.7 677.0 1240.8 652.8 1242.0 644.0C1243.3 633.9 1244.7 623.6 1246.0 619.0C1246.9 616.0 1247.7 612.5 1248.6 612.5C1250.3 612.5 1252.0 626.4 1253.7 626.4C1255.4 626.4 1257.1 618.4 1258.8 616.0C1259.9 614.5 1260.9 612.5 1262.0 612.5C1263.0 612.5 1264.0 631.9 1265.0 644.0C1265.9 654.9 1266.8 668.6 1267.7 682.0C1268.5 693.4 1269.2 718.0 1270.0 718.0C1270.9 718.0 1271.8 681.3 1272.7 657.0C1273.5 636.3 1274.2 607.3 1275.0 581.0C1275.7 558.2 1276.3 522.9 1277.0 510.0C1277.6 499.0 1278.1 487.0 1278.7 487.0C1279.5 487.0 1280.2 505.5 1281.0 520.0C1281.8 535.7 1282.7 568.5 1283.5 590.0C1284.3 611.5 1285.2 633.8 1286.0 650.0C1286.8 666.2 1287.7 691.0 1288.5 691.0C1289.2 691.0 1289.8 660.8 1290.5 640.0C1291.2 619.2 1291.8 593.4 1292.5 560.0C1292.9 539.1 1293.3 516.7 1293.8 480.0C1294.0 462.4 1294.1 423.3 1294.3 405.0C1294.8 362.3 1295.3 337.0 1295.8 310.0C1296.3 279.2 1296.8 255.2 1297.3 230.0C1297.7 214.3 1298.0 197.4 1298.3 185.0C1299.0 162.8 1299.5 150.4 1300.2 130.0C1300.6 115.0 1301.0 92.3 1301.5 80.0C1301.8 69.6 1302.2 55.0 1302.6 55.0C1303.0 55.0 1303.3 69.6 1303.7 80.0C1304.2 92.3 1304.6 115.0 1305.0 130.0C1305.6 150.4 1306.2 162.8 1306.8 185.0C1307.2 197.4 1307.5 214.3 1307.8 230.0C1308.4 255.2 1308.9 279.2 1309.5 310.0C1309.9 337.0 1310.4 374.7 1310.8 405.0C1311.2 431.0 1311.6 458.2 1312.0 480.0C1312.5 504.5 1313.0 525.1 1313.4 545.0C1313.9 568.6 1314.5 596.8 1315.0 610.0C1315.7 626.6 1316.3 640.2 1317.0 645.0C1318.0 652.2 1319.0 656.7 1320.0 658.0C1321.3 659.8 1322.7 660.4 1324.0 661.0C1325.0 661.5 1326.0 661.4 1327.0 662.0C1328.0 662.6 1329.0 672.7 1330.0 676.0C1331.2 679.9 1332.4 685.0 1333.6 685.0C1334.4 685.0 1335.2 666.5 1336.0 655.0C1336.9 642.1 1337.8 624.3 1338.7 609.0C1339.4 597.7 1340.0 586.3 1340.7 575.0C1341.4 563.7 1342.0 546.6 1342.7 541.0C1343.6 533.7 1344.4 527.0 1345.3 527.0C1346.1 527.0 1346.9 531.8 1347.7 537.0C1348.4 541.4 1349.0 555.3 1349.7 565.0C1350.5 576.2 1351.2 586.8 1352.0 600.0C1352.8 614.4 1353.7 638.3 1354.5 650.0C1355.6 665.5 1356.7 685.0 1357.8 685.0C1358.5 685.0 1359.3 663.7 1360.0 650.0C1360.7 637.5 1361.3 612.7 1362.0 605.0C1362.8 595.4 1363.7 586.0 1364.5 586.0C1365.3 586.0 1366.2 601.1 1367.0 610.0C1367.8 618.9 1368.7 635.1 1369.5 640.0C1370.2 643.9 1370.8 648.0 1371.5 648.0C1372.3 648.0 1373.2 626.8 1374.0 615.0C1374.9 602.7 1375.7 586.6 1376.6 575.0C1377.3 566.1 1377.9 554.6 1378.6 551.0C1379.3 547.4 1379.9 544.0 1380.6 544.0C1381.5 544.0 1382.3 546.9 1383.2 551.0C1383.9 554.5 1384.7 577.8 1385.4 590.0C1386.5 607.8 1387.5 624.7 1388.6 640.0C1389.6 654.4 1390.6 674.6 1391.6 680.0C1392.9 686.8 1394.1 691.5 1395.4 692.4C1397.9 694.1 1400.5 694.5 1403.0 695.0C1405.1 695.5 1407.2 696.0 1409.3 696.0C1411.4 696.0 1413.6 688.3 1415.7 687.0C1417.4 686.0 1419.1 685.0 1420.8 685.0C1422.1 685.0 1423.3 690.0 1424.6 690.0C1425.4 690.0 1426.2 666.7 1427.0 650.0C1427.7 636.1 1428.3 614.2 1429.0 595.0C1429.5 580.6 1430.0 565.2 1430.5 550.0C1430.9 536.8 1431.4 520.8 1431.8 510.0C1432.4 495.9 1432.9 480.3 1433.5 475.0C1434.2 468.7 1434.8 463.0 1435.5 463.0C1436.2 463.0 1436.8 467.6 1437.5 473.0C1438.2 478.4 1438.8 499.8 1439.5 515.0C1440.2 530.2 1440.8 547.5 1441.5 565.0C1442.2 582.5 1442.8 605.4 1443.5 620.0C1444.3 638.3 1445.2 665.0 1446.0 665.0C1446.8 665.0 1447.7 631.1 1448.5 609.0C1449.2 591.3 1449.8 569.5 1450.5 545.0C1451.1 523.6 1451.7 488.3 1452.2 470.0C1453.1 443.9 1453.9 430.0 1454.8 410.0C1455.6 390.0 1456.4 365.1 1457.2 350.0C1457.9 337.7 1458.6 324.4 1459.3 320.0C1459.9 315.9 1460.6 312.0 1461.2 312.0C1461.9 312.0 1462.5 315.8 1463.2 320.0C1463.9 324.2 1464.6 336.6 1465.2 350.0C1465.9 363.2 1466.6 392.1 1467.2 410.0C1468.1 432.3 1468.9 443.9 1469.8 470.0C1470.3 488.3 1470.9 523.6 1471.5 545.0C1472.2 569.5 1472.8 593.9 1473.5 609.0C1474.3 627.9 1475.2 644.1 1476.0 652.0C1477.3 664.7 1478.7 671.3 1480.0 677.0C1481.3 682.7 1482.7 688.9 1484.0 690.0C1485.8 691.5 1487.5 692.4 1489.3 692.4C1490.5 692.4 1491.8 670.5 1493.0 657.0C1494.3 642.5 1495.7 618.8 1497.0 606.0C1498.7 590.0 1500.3 574.3 1502.0 568.0C1503.7 561.7 1505.3 555.4 1507.0 555.4C1508.7 555.4 1510.3 559.2 1512.0 563.0C1513.3 566.1 1514.7 571.8 1516.0 580.8C1517.2 589.1 1518.5 614.0 1519.7 631.5C1520.6 643.8 1521.4 656.6 1522.3 669.6C1523.1 682.1 1524.0 698.4 1524.8 707.7C1525.7 717.4 1526.5 730.5 1527.4 730.5C1528.1 730.5 1528.8 679.0 1529.5 650.0C1530.2 622.4 1530.8 590.2 1531.5 560.0C1532.1 533.5 1532.7 502.4 1533.2 480.0C1533.9 454.4 1534.6 443.3 1535.2 414.0C1535.8 392.1 1536.2 353.1 1536.8 320.0C1537.2 286.9 1537.8 241.8 1538.2 215.0C1538.9 179.3 1539.6 149.1 1540.2 130.0C1540.8 114.8 1541.3 100.9 1541.8 95.0C1542.3 89.6 1542.8 84.0 1543.3 84.0C1543.8 84.0 1544.3 89.5 1544.8 95.0C1545.3 100.6 1545.8 113.5 1546.2 130.0C1546.8 146.6 1547.2 183.7 1547.8 215.0C1548.2 246.3 1548.8 286.9 1549.2 320.0C1549.8 353.1 1550.2 388.1 1550.8 414.0C1551.2 439.9 1551.8 455.3 1552.2 480.0C1552.7 500.6 1553.1 532.0 1553.5 550.0C1554.1 576.0 1554.7 612.0 1555.3 612.0C1555.9 612.0 1556.4 577.5 1557.0 560.0C1557.8 536.9 1558.5 510.4 1559.2 490.0C1560.1 467.4 1560.9 443.3 1561.8 430.0C1562.6 416.7 1563.4 404.2 1564.2 400.0C1565.2 395.2 1566.1 391.0 1567.1 391.0C1568.0 391.0 1568.9 396.1 1569.8 402.0C1570.6 407.6 1571.4 429.5 1572.2 445.0C1572.9 457.4 1573.6 471.7 1574.2 485.0C1574.9 498.3 1575.6 510.0 1576.2 525.0C1576.8 538.2 1577.4 558.3 1578.0 570.0C1578.8 586.7 1579.7 598.6 1580.5 610.0C1581.3 621.4 1582.2 633.0 1583.0 640.0C1584.8 654.8 1586.5 663.5 1588.3 672.0C1590.0 680.2 1591.7 687.8 1593.4 692.4C1595.1 696.9 1596.7 700.4 1598.4 702.6C1600.1 704.9 1601.8 707.7 1603.5 707.7C1605.6 707.7 1607.7 705.0 1609.8 705.0C1611.1 705.0 1612.4 709.7 1613.7 712.7C1615.0 715.6 1616.2 720.1 1617.5 723.0C1618.8 725.9 1620.0 730.5 1621.3 730.5C1623.9 730.5 1626.4 728.9 1629.0 728.0C1631.5 727.2 1634.0 727.0 1636.5 725.4C1638.2 724.3 1639.9 717.1 1641.6 715.0C1642.9 713.4 1644.1 711.5 1645.4 711.5C1646.7 711.5 1647.9 716.7 1649.2 720.4C1650.9 725.4 1652.6 734.9 1654.3 740.7C1656.0 746.5 1657.7 754.0 1659.4 756.0C1661.1 758.0 1662.7 759.7 1664.4 759.7C1666.1 759.7 1667.7 757.1 1669.4 753.8C1670.1 752.5 1670.7 746.7 1671.4 745.8C1673.4 743.2 1675.4 742.5 1677.4 741.8C1680.1 740.8 1682.7 739.8 1685.4 739.8C1688.1 739.8 1690.7 741.8 1693.4 741.8C1696.1 741.8 1698.7 740.9 1701.4 739.8C1704.3 738.6 1707.1 729.0 1710.0 727.8C1712.7 726.7 1715.3 726.8 1718.0 725.8C1720.7 724.9 1723.3 720.8 1726.0 720.8C1728.0 720.8 1730.0 725.3 1732.0 727.8C1733.6 729.9 1735.3 734.8 1737.0 734.8C1738.6 734.8 1740.3 729.5 1742.0 728.8C1743.3 728.3 1744.6 727.8 1745.9 727.8C1747.9 727.8 1749.9 735.8 1751.9 735.8C1752.9 735.8 1753.9 728.6 1754.9 723.8C1755.9 719.0 1756.9 709.5 1757.9 705.9C1758.9 702.2 1759.9 697.9 1760.9 697.9C1761.9 697.9 1762.9 697.9 1763.9 697.9C1764.9 697.9 1765.9 707.5 1766.9 711.8C1767.9 716.1 1768.9 719.8 1769.9 723.8C1771.2 729.2 1772.6 734.5 1773.9 739.8C1775.2 745.1 1776.6 753.2 1777.9 755.8C1779.2 758.3 1780.6 760.8 1781.9 760.8C1783.6 760.8 1785.2 759.0 1786.9 757.8C1788.6 756.5 1790.2 753.3 1791.9 752.8C1793.9 752.2 1795.9 752.3 1797.9 751.8C1799.5 751.4 1801.2 751.0 1802.9 749.8C1803.9 749.1 1804.9 745.4 1805.9 743.8C1807.2 741.7 1808.5 738.8 1809.9 738.8C1811.2 738.8 1812.5 739.3 1813.9 739.8C1815.9 740.6 1817.8 744.8 1819.8 745.8C1821.8 746.8 1823.8 747.0 1825.8 747.8C1827.8 748.6 1829.8 750.0 1831.8 750.8C1833.8 751.6 1835.8 752.8 1837.8 752.8C1840.5 752.8 1843.1 752.8 1845.8 752.8C1847.8 752.8 1849.8 749.8 1851.8 749.8C1853.1 749.8 1854.5 751.8 1855.8 752.8C1857.5 754.1 1859.1 756.8 1860.8 756.8C1862.1 756.8 1863.5 755.6 1864.8 753.8C1865.8 752.4 1866.8 745.0 1867.8 739.8C1868.8 734.6 1869.8 723.5 1870.8 721.8C1871.8 720.1 1872.8 718.8 1873.8 718.8C1875.1 718.8 1876.4 723.0 1877.8 724.8C1879.1 726.6 1880.4 727.6 1881.8 729.8C1883.1 732.0 1884.4 735.7 1885.8 739.8C1887.1 743.9 1888.4 751.9 1889.7 755.8C1891.1 759.6 1892.4 764.4 1893.7 764.8C1896.4 765.5 1899.1 765.8 1901.7 765.8C1904.4 765.8 1907.1 765.3 1909.7 764.9C1912.4 764.5 1915.0 763.1 1917.7 763.1C1919.7 763.1 1921.7 764.5 1923.7 765.2C1925.7 765.9 1927.7 767.2 1929.7 767.3C1933.0 767.4 1936.3 767.4 1939.7 767.4C1943.0 767.4 1946.3 766.9 1949.7 766.6C1953.0 766.3 1956.3 766.2 1959.7 765.8C1961.6 765.5 1963.6 764.6 1965.6 763.8C1967.0 763.2 1968.3 761.8 1969.6 761.8C1971.6 761.8 1973.6 764.4 1975.6 765.8C1977.6 767.1 1979.6 768.9 1981.6 769.8C1983.6 770.7 1985.6 771.8 1987.6 771.8C1990.3 771.8 1992.9 770.2 1995.6 769.8C1998.3 769.3 2000.9 769.3 2003.6 768.8C2005.6 768.4 2007.6 766.8 2009.6 766.8C2010.9 766.8 2012.2 769.7 2013.6 770.8C2015.6 772.4 2017.6 774.8 2019.6 774.8C2021.6 774.8 2023.6 772.8 2025.6 770.8C2026.9 769.4 2028.2 765.0 2029.6 763.8C2030.6 762.8 2031.5 761.8 2032.5 761.8C2034.2 761.8 2035.9 764.8 2037.5 766.8C2038.9 768.4 2040.2 772.8 2041.5 772.8C2043.5 772.8 2045.5 772.8 2047.5 772.8C2049.5 772.8 2051.5 769.8 2053.5 769.8C2055.5 769.8 2057.5 771.1 2059.5 771.8C2061.5 772.4 2063.5 773.8 2065.5 773.8C2070.2 773.8 2074.8 773.8 2079.5 773.8C2082.8 773.8 2086.1 774.4 2089.5 774.4C2092.8 774.4 2096.1 774.1 2099.5 773.8C2101.1 773.6 2102.8 771.8 2104.4 771.8C2106.1 771.8 2107.8 774.1 2109.4 774.4C2114.8 775.3 2120.1 775.8 2125.4 775.8C2128.1 775.8 2130.7 775.0 2133.4 774.8C2135.4 774.6 2137.4 774.5 2139.4 774.4C2142.1 774.1 2144.7 773.2 2147.4 773.2C2149.4 773.2 2151.4 775.8 2153.4 775.8C2156.4 775.8 2159.5 775.4 2162.5 774.8C2164.5 774.4 2166.5 772.1 2168.5 770.8C2170.5 769.4 2172.5 766.8 2174.5 766.8C2176.5 766.8 2178.5 768.3 2180.5 768.8C2182.5 769.2 2184.5 769.8 2186.5 769.8C2188.5 769.8 2190.5 767.8 2192.5 767.8C2194.1 767.8 2195.8 770.4 2197.4 771.8C2199.1 773.1 2200.8 775.8 2202.4 775.8C2203.8 775.8 2205.1 774.4 2206.4 773.8C2207.8 773.1 2209.1 772.4 2210.4 771.8" stroke="#0000ff"/>
</g>
<use href="#BS" x="1.1" y="0"/>
<use href="#BS" x="-1.1" y="0"/>
<use href="#BS" x="0" y="1.1"/>
<use href="#BS" x="0" y="-1.1"/>
<g id="KD">
<path d="M1096.0 779.9C1100.7 779.9 1105.3 779.9 1110.0 779.9C1113.3 779.9 1116.7 779.6 1120.0 779.2C1122.7 778.9 1125.3 774.6 1128.0 774.6C1130.7 774.6 1133.3 778.6 1136.0 778.6C1139.0 778.6 1142.0 778.4 1145.0 778.1C1147.3 777.8 1149.7 774.6 1152.0 774.6C1154.7 774.6 1157.3 779.2 1160.0 779.2C1201.7 779.8 1243.3 779.9 1285.0 779.9C1287.7 779.9 1290.3 779.0 1293.0 778.1C1295.6 777.2 1298.1 772.3 1300.7 772.3C1303.1 772.3 1305.6 777.7 1308.0 778.1C1318.7 779.5 1329.3 779.9 1340.0 779.9C1376.7 779.9 1413.3 779.9 1450.0 779.9C1453.7 779.9 1457.3 775.8 1461.0 775.8C1464.7 775.8 1468.3 779.9 1472.0 779.9C1489.7 779.9 1507.3 779.9 1525.0 779.9C1528.3 779.9 1531.7 768.6 1535.0 768.6C1537.7 768.6 1540.3 768.7 1543.0 769.0C1545.7 769.3 1548.3 778.1 1551.0 778.1C1554.0 778.1 1557.0 776.9 1560.0 775.8C1562.3 774.9 1564.7 771.2 1567.0 771.2C1569.7 771.2 1572.3 775.8 1575.0 776.9C1578.3 778.3 1581.7 779.9 1585.0 779.9C1590.0 779.9 1595.0 779.9 1600.0 779.9" stroke="#000000" stroke-dasharray="12.6 11.4"/>
</g>
<use href="#KD" x="1.1" y="0"/>
<use href="#KD" x="-1.1" y="0"/>
<use href="#KD" x="0" y="1.1"/>
<use href="#KD" x="0" y="-1.1"/>
<g id="RD">
<path d="M397.5 779.9C536.7 779.9 675.8 779.9 815.0 779.9C817.3 779.9 819.7 778.0 822.0 776.9C824.7 775.6 827.3 772.3 830.0 772.3C832.7 772.3 835.3 775.7 838.0 776.9C840.7 778.1 843.3 779.9 846.0 779.9C872.3 779.9 898.7 779.9 925.0 779.9C928.3 779.9 931.7 775.6 935.0 773.5C938.3 771.3 941.7 767.0 945.0 767.0C948.3 767.0 951.7 771.4 955.0 773.5C958.3 775.5 961.7 779.2 965.0 779.2C968.3 779.2 971.7 778.3 975.0 776.9C977.7 775.8 980.3 769.0 983.0 765.0C985.3 761.5 987.7 754.6 990.0 754.6C992.3 754.6 994.7 762.3 997.0 766.0C999.7 770.2 1002.3 778.1 1005.0 778.1C1008.3 778.1 1011.7 777.6 1015.0 776.9C1017.7 776.3 1020.3 768.1 1023.0 764.0C1025.7 759.9 1028.3 752.0 1031.0 752.0C1033.7 752.0 1036.3 759.9 1039.0 764.0C1041.7 768.1 1044.3 776.0 1047.0 776.9C1051.3 778.4 1055.7 779.2 1060.0 779.2C1076.7 779.2 1093.3 779.2 1110.0 779.2C1113.3 779.2 1116.7 771.9 1120.0 768.0C1122.7 764.8 1125.3 758.0 1128.0 758.0C1130.0 758.0 1132.0 763.6 1134.0 766.0C1136.0 768.4 1138.0 772.3 1140.0 772.3C1142.0 772.3 1144.0 767.7 1146.0 765.0C1148.0 762.3 1150.0 756.0 1152.0 756.0C1154.3 756.0 1156.7 763.6 1159.0 767.0C1161.7 770.9 1164.3 778.1 1167.0 778.1C1178.0 778.1 1189.0 778.1 1200.0 778.1C1203.0 778.1 1206.0 772.3 1209.0 772.3C1212.0 772.3 1215.0 778.1 1218.0 778.1C1235.3 778.1 1252.7 777.9 1270.0 776.9C1273.0 776.7 1276.0 765.0 1279.0 765.0C1281.3 765.0 1283.7 770.0 1286.0 770.0C1288.3 770.0 1290.7 760.1 1293.0 755.0C1295.6 749.4 1298.1 738.0 1300.7 738.0C1303.1 738.0 1305.6 750.0 1308.0 756.0C1310.7 762.6 1313.3 775.0 1316.0 775.8C1321.3 777.4 1326.7 778.1 1332.0 778.1C1336.3 778.1 1340.7 766.0 1345.0 766.0C1348.7 766.0 1352.3 776.9 1356.0 776.9C1361.3 776.9 1366.7 776.5 1372.0 775.8C1374.7 775.4 1377.3 768.0 1380.0 768.0C1383.0 768.0 1386.0 778.1 1389.0 778.1C1401.0 778.1 1413.0 778.1 1425.0 778.1C1428.3 778.1 1431.7 768.0 1435.0 768.0C1438.3 768.0 1441.7 772.3 1445.0 772.3C1447.3 772.3 1449.7 766.5 1452.0 764.0C1454.3 761.5 1456.7 757.0 1459.0 757.0C1461.7 757.0 1464.3 764.7 1467.0 768.0C1470.0 771.7 1473.0 778.1 1476.0 778.1C1481.3 778.1 1486.7 776.4 1492.0 774.6C1496.3 773.2 1500.7 766.0 1505.0 766.0C1509.3 766.0 1513.7 774.9 1518.0 775.8C1521.3 776.4 1524.7 776.9 1528.0 776.9C1530.3 776.9 1532.7 761.6 1535.0 755.0C1537.5 747.9 1540.1 735.6 1542.6 735.6C1545.1 735.6 1547.5 750.9 1550.0 756.0C1552.0 760.1 1554.0 766.0 1556.0 766.0C1557.7 766.0 1559.3 760.7 1561.0 758.0C1562.5 755.7 1563.9 751.0 1565.4 751.0C1567.6 751.0 1569.8 758.3 1572.0 762.0C1574.7 766.5 1577.3 773.9 1580.0 775.8C1583.3 778.0 1586.7 779.9 1590.0 779.9C1593.3 779.9 1596.7 779.9 1600.0 779.9" stroke="#ff0000" stroke-dasharray="12.6 11.4"/>
<path d="M1600.0 779.9H2082.0" stroke="#ff0000" stroke-dasharray="12.6 11.4" stroke-dashoffset="8.45"/>
</g>
<use href="#RD" x="1.1" y="0"/>
<use href="#RD" x="-1.1" y="0"/>
<use href="#RD" x="0" y="1.1"/>
<use href="#RD" x="0" y="-1.1"/>
<g id="GD">
<path d="M397.5 779.9C535.7 779.9 673.8 779.9 812.0 779.9C814.8 779.9 817.5 777.2 820.3 774.2C822.0 772.4 823.7 766.7 825.4 763.5C827.1 760.3 828.8 754.6 830.5 754.6C832.1 754.6 833.8 757.0 835.5 758.4C837.2 759.9 838.9 762.6 840.6 763.5C843.1 764.8 845.7 764.4 848.2 766.0C849.5 766.9 850.8 776.9 852.0 777.1C860.1 778.4 868.1 778.6 876.1 778.6C882.9 778.6 889.7 777.2 896.4 774.2C899.0 773.1 901.5 761.0 904.1 761.0C906.6 761.0 909.1 764.3 911.7 766.0C914.2 767.8 916.8 771.3 919.3 771.3C921.8 771.3 924.4 766.9 926.9 763.5C929.4 760.1 932.0 754.8 934.5 748.3C935.8 745.0 937.1 735.6 938.3 735.6C940.4 735.6 942.6 736.8 944.7 738.1C946.4 739.2 948.1 742.6 949.7 745.7C951.4 748.9 953.1 753.7 954.8 758.4C956.5 763.1 958.2 772.2 959.9 774.2C962.4 777.2 965.0 779.5 967.5 779.5C970.1 779.5 972.6 779.2 975.1 778.6C976.4 778.3 977.7 766.5 978.9 758.4C980.2 750.3 981.5 738.1 982.7 728.0C984.0 717.8 985.3 703.5 986.5 697.5C987.8 691.5 989.1 684.8 990.4 684.8C991.6 684.8 992.9 689.4 994.2 695.0C995.0 698.7 995.9 711.9 996.7 720.4C997.5 728.8 998.4 739.7 999.2 745.7C1000.5 754.7 1001.8 760.9 1003.0 766.0C1004.3 771.2 1005.6 778.6 1006.9 778.6C1009.8 778.6 1012.8 778.6 1015.7 778.6C1017.0 778.6 1018.3 767.2 1019.5 758.4C1020.8 749.6 1022.1 734.8 1023.4 720.4C1024.2 710.7 1025.0 694.5 1025.9 687.4C1027.2 676.7 1028.4 664.5 1029.7 664.5C1031.0 664.5 1032.2 670.6 1033.5 677.2C1034.3 681.6 1035.2 695.7 1036.0 702.6C1037.3 712.9 1038.6 722.1 1039.8 728.0C1041.5 735.9 1043.2 745.7 1044.9 745.7C1046.6 745.7 1048.3 740.7 1050.0 740.7C1051.3 740.7 1052.5 743.0 1053.8 745.7C1054.7 747.6 1055.5 754.6 1056.3 758.4C1057.6 764.2 1058.9 773.3 1060.2 774.2C1064.4 777.4 1068.6 778.6 1072.8 778.6C1075.0 778.6 1077.1 775.3 1079.2 774.2C1081.7 772.9 1084.3 771.3 1086.8 771.3C1089.6 771.3 1092.3 779.9 1095.1 779.9C1098.5 779.9 1101.8 775.3 1105.2 771.3C1109.5 766.3 1113.7 759.7 1117.9 745.7C1119.2 741.5 1120.5 730.5 1121.7 722.9C1123.0 715.3 1124.3 701.6 1125.5 700.1C1126.8 698.5 1128.1 697.5 1129.3 697.5C1130.2 697.5 1131.0 707.9 1131.9 712.7C1133.1 719.9 1134.4 727.8 1135.7 733.0C1137.0 738.3 1138.2 745.7 1139.5 745.7C1140.8 745.7 1142.0 728.8 1143.3 720.4C1144.6 711.9 1145.8 701.6 1147.1 695.0C1148.4 688.3 1149.6 678.5 1150.9 678.5C1152.2 678.5 1153.5 685.9 1154.7 692.4C1155.6 696.8 1156.4 705.2 1157.3 712.7C1158.1 720.3 1159.0 730.6 1159.8 738.1C1160.6 745.6 1161.5 755.6 1162.3 758.4C1163.6 762.7 1164.9 764.7 1166.1 766.0C1168.7 768.8 1171.2 770.0 1173.8 771.3C1176.3 772.5 1178.8 773.4 1181.4 774.2C1184.8 775.3 1188.1 777.1 1191.5 777.1C1194.9 777.1 1198.3 762.7 1201.7 758.4C1203.4 756.3 1205.1 753.4 1206.8 753.4C1208.4 753.4 1210.1 760.0 1211.8 763.5C1213.5 767.0 1215.2 773.3 1216.9 774.2C1220.3 776.1 1223.7 777.1 1227.1 777.1C1230.4 777.1 1233.8 774.3 1237.2 771.3C1238.9 769.8 1240.6 765.3 1242.3 763.5C1245.7 760.0 1249.1 757.9 1252.4 755.9C1255.8 753.9 1259.2 750.8 1262.6 750.8C1264.3 750.8 1266.0 766.0 1267.7 766.0C1268.9 766.0 1270.2 762.3 1271.5 758.4C1272.7 754.5 1274.0 739.5 1275.3 733.0C1276.3 727.9 1277.3 720.4 1278.3 720.4C1279.4 720.4 1280.5 738.2 1281.6 740.7C1282.9 743.5 1284.2 745.7 1285.4 745.7C1286.7 745.7 1288.0 735.6 1289.2 728.0C1290.1 722.9 1290.9 716.5 1291.8 707.7C1292.6 698.8 1293.5 681.4 1294.3 669.6C1295.2 657.8 1296.0 642.7 1296.9 636.6C1297.7 630.5 1298.5 623.9 1299.4 623.9C1300.7 623.9 1301.9 630.0 1303.2 636.6C1304.0 641.0 1304.9 650.3 1305.7 662.0C1306.2 667.8 1306.6 679.8 1307.0 687.4C1307.4 694.9 1307.9 702.3 1308.3 707.7C1309.1 718.4 1310.0 724.6 1310.8 733.0C1311.7 741.5 1312.5 751.9 1313.4 758.4C1314.2 764.9 1315.0 773.5 1315.9 774.2C1318.4 776.4 1321.0 777.1 1323.5 777.1C1326.0 777.1 1328.6 774.2 1331.1 771.3C1333.2 768.9 1335.3 763.9 1337.5 758.4C1338.7 755.2 1340.0 748.4 1341.3 745.7C1343.0 742.2 1344.7 738.1 1346.3 738.1C1348.0 738.1 1349.7 746.6 1351.4 750.8C1353.1 755.0 1354.8 763.5 1356.5 763.5C1358.6 763.5 1360.7 750.6 1362.8 745.7C1363.7 743.8 1364.5 740.7 1365.4 740.7C1366.6 740.7 1367.9 755.5 1369.2 758.4C1370.9 762.4 1372.6 766.0 1374.3 766.0C1376.0 766.0 1377.6 759.0 1379.3 753.4C1379.8 752.0 1380.2 748.0 1380.6 748.0C1382.1 748.0 1383.5 761.4 1385.0 765.0C1387.3 770.7 1389.7 776.3 1392.0 776.9C1401.3 779.2 1410.7 779.9 1420.0 779.9C1480.0 779.9 1540.0 779.9 1600.0 779.9" stroke="#009200" stroke-dasharray="12.6 11.4"/>
<path d="M1600.0 779.9H2210.6" stroke="#009200" stroke-dasharray="12.6 11.4" stroke-dashoffset="20.45"/>
</g>
<use href="#GD" x="1.1" y="0"/>
<use href="#GD" x="-1.1" y="0"/>
<use href="#GD" x="0" y="1.1"/>
<use href="#GD" x="0" y="-1.1"/>
<g id="BD">
<path d="M397.5 778.4C473.3 778.4 549.2 778.4 625.0 778.0C627.0 778.0 629.0 773.6 631.0 770.0C632.5 767.3 634.0 758.0 635.5 758.0C637.0 758.0 638.5 769.7 640.0 772.0C641.7 774.5 643.3 777.0 645.0 777.0C651.0 777.0 657.0 777.0 663.0 777.0C664.3 777.0 665.7 771.0 667.0 768.0C668.2 765.4 669.3 760.0 670.5 760.0C671.7 760.0 672.8 769.8 674.0 772.0C675.3 774.5 676.7 777.0 678.0 777.0C682.7 777.0 687.3 777.0 692.0 777.0C693.3 777.0 694.7 768.8 696.0 764.0C697.0 760.4 698.0 752.0 699.0 752.0C700.0 752.0 701.0 762.7 702.0 766.0C703.3 770.4 704.7 775.9 706.0 776.0C717.3 776.9 728.7 777.0 740.0 777.0C741.3 777.0 742.7 771.0 744.0 768.0C745.2 765.4 746.3 760.0 747.5 760.0C748.7 760.0 749.8 767.5 751.0 770.0C752.3 772.9 753.7 777.0 755.0 777.0C762.7 777.0 770.3 777.0 778.0 777.0C779.3 777.0 780.7 772.5 782.0 770.0C783.3 767.5 784.7 762.0 786.0 762.0C787.3 762.0 788.7 769.8 790.0 772.0C791.3 774.2 792.7 776.9 794.0 777.0C800.0 777.4 806.0 777.5 812.0 777.5C813.5 777.5 815.0 776.0 816.5 773.7C817.8 771.7 819.0 754.6 820.3 745.7C821.6 736.9 822.8 730.6 824.1 720.4C825.0 713.5 825.8 699.7 826.6 695.0C827.9 687.9 829.2 681.0 830.5 681.0" stroke="#0000ff" stroke-dasharray="12.38 11.20" stroke-dashoffset="0.00"/>
<path d="M830.5 681.0C831.7 681.0 833.0 688.7 834.3 695.0C835.1 699.1 836.0 706.8 836.8 712.7C837.6 718.7 838.5 730.5 839.3 730.5C840.6 730.5 841.9 724.9 843.1 722.9C844.4 720.9 845.7 717.8 847.0 717.8C848.2 717.8 849.5 726.1 850.8 733.0C851.6 737.7 852.5 744.5 853.3 753.4C853.7 757.8 854.1 769.2 854.6 771.1C855.4 775.0 856.3 777.5 857.1 777.5C869.4 777.5 881.6 777.5 893.9 777.5C894.3 777.5 894.8 773.8 895.2 771.1C896.0 765.7 896.9 752.7 897.7 745.7C898.6 738.8 899.4 732.6 900.3 728.0C901.5 721.1 902.8 711.5 904.1 711.5C905.3 711.5 906.6 715.6 907.9 720.4C908.7 723.5 909.6 734.9 910.4 740.7C911.3 746.5 912.1 755.9 912.9 755.9C914.6 755.9 916.3 749.1 918.0 745.7C920.1 741.5 922.3 737.3 924.4 733.0C926.1 729.7 927.7 729.1 929.4 722.9C930.3 719.8 931.1 705.7 932.0 695.0C932.8 684.2 933.7 668.2 934.5 656.9C935.4 645.6 936.2 632.0 937.1 626.4C938.3 618.1 939.6 609.9 940.9 609.9" stroke="#0000ff" stroke-dasharray="12.48 11.29" stroke-dashoffset="6.24"/>
<path d="M940.9 609.9C942.6 609.9 944.2 618.5 945.9 626.4C947.2 632.4 948.5 644.6 949.7 656.9C950.6 665.1 951.4 676.8 952.3 687.4C953.1 697.9 954.0 711.8 954.8 720.4C956.1 733.1 957.4 742.1 958.6 750.8C959.9 759.5 961.2 771.1 962.4 773.7C963.7 776.2 965.0 778.2 966.2 778.2C968.4 778.2 970.5 778.0 972.6 777.5C973.4 777.2 974.3 766.9 975.1 758.4C976.0 750.0 976.8 734.9 977.7 720.4C978.5 705.9 979.4 693.0 980.2 669.6C980.6 657.9 981.0 630.5 981.5 618.8C982.3 595.4 983.2 587.6 984.0 568.1C984.6 554.3 985.2 537.3 985.8 520.0C986.5 498.7 987.3 470.5 988.0 450.0C988.7 431.4 989.3 407.3 990.0 400.0C990.7 392.7 991.3 386.0 992.0 386.0" stroke="#0000ff" stroke-dasharray="12.48 11.29" stroke-dashoffset="6.24"/>
<path d="M992.0 386.0C992.7 386.0 993.3 392.7 994.0 400.0C994.7 407.3 995.3 428.0 996.0 450.0C996.5 466.5 997.0 486.1 997.5 520.0C997.8 538.1 998.0 586.1 998.3 606.0C998.6 628.4 998.9 645.2 999.2 657.0C999.6 674.0 1000.1 683.2 1000.5 695.0C1000.9 706.8 1001.4 720.6 1001.8 728.0C1002.6 742.2 1003.5 752.3 1004.3 758.4C1005.5 767.4 1006.8 776.7 1008.0 777.0C1009.5 777.3 1011.0 777.5 1012.5 777.5C1013.2 777.5 1013.8 776.9 1014.5 776.0C1015.3 774.9 1016.2 762.0 1017.0 753.0C1017.8 744.0 1018.7 733.3 1019.5 720.0C1020.3 706.7 1021.2 691.8 1022.0 669.6C1022.5 657.2 1022.9 637.1 1023.4 618.8C1023.8 603.1 1024.2 583.8 1024.6 568.0C1025.0 550.9 1025.5 543.3 1025.9 520.0C1026.2 505.7 1026.4 473.5 1026.7 450.0C1027.0 423.5 1027.3 386.6 1027.6 370.0C1028.1 344.2 1028.5 324.3 1029.0 316.0C1029.7 304.2 1030.3 294.0 1031.0 294.0" stroke="#0000ff" stroke-dasharray="12.51 11.32" stroke-dashoffset="6.26"/>
<path d="M1031.0 294.0C1031.7 294.0 1032.3 304.2 1033.0 316.0C1033.5 324.3 1033.9 348.5 1034.4 370.0C1034.9 391.5 1035.3 429.7 1035.8 450.0C1036.5 481.9 1037.3 504.5 1038.0 525.0C1038.6 541.8 1039.2 554.3 1039.8 568.0C1040.3 579.4 1040.8 592.6 1041.3 601.0C1042.1 613.9 1042.8 625.7 1043.6 631.5C1044.4 637.5 1045.2 644.0 1046.0 644.0C1046.7 644.0 1047.3 631.7 1048.0 625.0C1048.7 618.3 1049.3 603.6 1050.0 603.6C1051.3 603.6 1052.5 611.3 1053.8 618.8C1054.6 623.7 1055.5 631.5 1056.3 644.0C1056.8 651.5 1057.3 668.9 1057.8 682.0C1058.3 694.2 1058.7 710.0 1059.2 720.0C1059.9 735.7 1060.7 750.7 1061.4 758.0C1062.3 766.7 1063.1 775.8 1064.0 776.0C1067.7 776.8 1071.3 777.0 1075.0 777.0C1076.3 777.0 1077.7 773.3 1079.0 771.0C1080.7 768.2 1082.3 762.8 1084.0 761.0C1085.3 759.6 1086.7 758.0 1088.0 758.0C1089.3 758.0 1090.7 768.6 1092.0 771.0C1093.3 773.4 1094.7 776.0 1096.0 776.0C1097.3 776.0 1098.7 770.7 1100.0 768.0C1101.7 764.7 1103.3 762.3 1105.0 758.0C1106.7 753.7 1108.3 743.7 1110.0 740.0C1111.0 737.8 1112.0 735.0 1113.0 735.0C1114.0 735.0 1115.0 745.0 1116.0 745.0C1117.0 745.0 1118.0 726.2 1119.0 708.0C1119.6 697.7 1120.1 676.4 1120.7 657.0C1121.1 642.2 1121.6 622.1 1122.0 606.0C1122.4 589.9 1122.9 577.4 1123.3 560.0C1123.8 539.9 1124.3 508.1 1124.8 490.0C1125.4 469.5 1125.9 447.4 1126.5 440.0C1127.1 432.2 1127.7 425.0 1128.3 425.0" stroke="#0000ff" stroke-dasharray="12.45 11.27" stroke-dashoffset="6.23"/>
<path d="M1128.3 425.0C1128.9 425.0 1129.4 432.4 1130.0 440.0C1130.6 448.0 1131.2 470.1 1131.8 490.0C1132.4 508.8 1132.9 537.0 1133.5 560.0C1134.0 580.3 1134.5 600.0 1135.0 620.0C1135.5 640.0 1136.0 663.3 1136.5 680.0C1137.0 696.7 1137.5 723.0 1138.0 723.0C1138.7 723.0 1139.3 697.0 1140.0 680.0C1140.8 658.7 1141.7 628.4 1142.5 600.0C1143.2 575.0 1144.0 547.6 1144.7 520.0C1145.5 491.1 1146.2 452.7 1147.0 430.0C1148.0 400.4 1149.0 371.7 1150.0 360.0C1150.9 349.1 1151.9 338.0 1152.8 338.0" stroke="#0000ff" stroke-dasharray="12.82 11.60" stroke-dashoffset="6.41"/>
<path d="M1152.8 338.0C1153.7 338.0 1154.6 348.6 1155.5 360.0C1156.3 370.6 1157.2 401.0 1158.0 430.0C1158.7 453.2 1159.3 488.4 1160.0 520.0C1160.7 551.6 1161.3 602.7 1162.0 620.0C1162.7 637.3 1163.3 653.3 1164.0 655.0C1165.3 658.4 1166.7 660.0 1168.0 660.0C1169.7 660.0 1171.3 658.0 1173.0 658.0C1174.7 658.0 1176.3 676.4 1178.0 682.0C1180.7 691.0 1183.3 697.2 1186.0 702.0C1189.3 708.0 1192.7 716.0 1196.0 716.0C1197.3 716.0 1198.7 714.5 1200.0 712.0C1201.0 710.1 1202.0 693.9 1203.0 680.0C1204.0 666.1 1205.0 633.4 1206.0 620.0C1207.2 604.3 1208.3 585.0 1209.5 585.0C1210.5 585.0 1211.5 620.9 1212.5 640.0C1213.5 659.8 1214.6 692.2 1215.6 702.0C1216.9 714.0 1218.1 722.2 1219.4 725.0C1220.6 727.7 1221.8 730.0 1223.0 730.0C1224.7 730.0 1226.3 708.0 1228.0 708.0C1229.0 708.0 1230.0 708.9 1231.0 710.0C1232.3 711.5 1233.7 723.0 1235.0 725.0C1236.0 726.5 1237.0 728.0 1238.0 728.0C1239.0 728.0 1240.0 719.0 1241.0 712.0C1241.8 706.1 1242.7 694.4 1243.5 687.0C1244.3 679.6 1245.2 670.3 1246.0 667.0C1247.3 661.7 1248.7 659.2 1250.0 657.0C1252.0 653.7 1254.0 650.0 1256.0 650.0C1258.0 650.0 1260.0 651.8 1262.0 655.0C1263.3 657.1 1264.7 678.9 1266.0 690.0C1267.3 701.1 1268.7 722.0 1270.0 722.0C1271.0 722.0 1272.0 692.0 1273.0 670.0C1274.0 648.0 1275.0 608.8 1276.0 580.0C1276.9 554.1 1277.8 505.0 1278.7 505.0C1279.6 505.0 1280.6 556.9 1281.5 580.0C1282.7 608.9 1283.8 643.1 1285.0 660.0C1286.2 676.9 1287.3 697.0 1288.5 697.0C1289.5 697.0 1290.5 673.1 1291.5 640.0C1291.9 627.9 1292.2 583.6 1292.6 560.0C1293.1 530.0 1293.5 516.0 1294.0 480.0C1294.2 462.0 1294.5 425.7 1294.7 405.0C1295.1 366.6 1295.6 335.9 1296.0 310.0C1296.5 278.1 1297.1 253.9 1297.6 230.0C1298.0 213.6 1298.3 198.1 1298.7 185.0C1299.3 164.8 1299.8 150.7 1300.4 132.0C1300.8 118.8 1301.2 99.4 1301.6 90.0C1301.9 82.2 1302.3 72.0 1302.6 72.0" stroke="#0000ff" stroke-dasharray="12.56 11.36" stroke-dashoffset="6.28"/>
<path d="M1302.6 72.0C1302.9 72.0 1303.3 82.2 1303.6 90.0C1304.0 99.4 1304.4 118.8 1304.8 132.0C1305.4 150.7 1305.9 164.8 1306.5 185.0C1306.9 198.1 1307.2 213.6 1307.6 230.0C1308.1 253.9 1308.7 279.2 1309.2 310.0C1309.7 337.0 1310.1 374.7 1310.6 405.0C1311.0 431.0 1311.4 458.6 1311.8 480.0C1312.3 505.0 1312.7 513.7 1313.2 545.0C1313.5 562.9 1313.7 621.2 1314.0 630.0C1314.8 657.6 1315.7 665.8 1316.5 672.0C1317.7 680.7 1318.8 686.0 1320.0 688.0C1322.0 691.5 1324.0 692.2 1326.0 694.0C1327.7 695.5 1329.3 698.0 1331.0 698.0C1332.2 698.0 1333.3 694.5 1334.5 690.0C1335.5 686.1 1336.5 669.3 1337.5 655.0C1338.5 640.7 1339.5 617.1 1340.5 600.0C1341.3 585.8 1342.2 567.7 1343.0 560.0C1343.8 552.9 1344.5 545.0 1345.3 545.0C1346.1 545.0 1346.9 552.4 1347.7 560.0C1348.5 567.3 1349.2 589.8 1350.0 605.0C1351.0 624.8 1352.0 651.5 1353.0 665.0C1354.3 683.1 1355.7 705.0 1357.0 705.0C1358.2 705.0 1359.3 680.1 1360.5 665.0C1361.8 647.8 1363.2 605.0 1364.5 605.0C1365.7 605.0 1366.8 648.5 1368.0 660.0C1369.2 671.5 1370.3 685.0 1371.5 685.0C1372.7 685.0 1373.8 658.4 1375.0 640.0C1376.0 624.3 1377.0 591.0 1378.0 580.0C1378.9 570.5 1379.7 560.0 1380.6 560.0C1381.6 560.0 1382.5 573.7 1383.5 585.0C1384.5 596.7 1385.5 622.3 1386.5 640.0C1387.7 660.7 1388.8 683.9 1390.0 700.0C1391.3 717.5 1392.5 740.4 1393.8 743.8C1395.1 747.4 1396.5 748.7 1397.8 749.8C1401.8 753.1 1405.8 755.8 1409.8 755.8C1412.5 755.8 1415.1 752.6 1417.8 749.8C1420.5 747.0 1423.1 745.8 1425.8 735.8C1426.6 732.7 1427.5 711.3 1428.3 690.0C1429.0 671.3 1429.8 629.7 1430.5 600.0C1431.2 573.0 1431.8 533.8 1432.5 520.0C1433.5 499.3 1434.5 480.0 1435.5 480.0C1436.5 480.0 1437.5 500.9 1438.5 520.0C1439.3 535.9 1440.2 582.2 1441.0 600.0C1441.8 617.8 1442.7 628.1 1443.5 640.0C1444.3 651.9 1445.2 672.0 1446.0 672.0C1446.9 672.0 1447.8 644.5 1448.7 625.0C1449.5 608.4 1450.2 584.2 1451.0 560.0C1451.8 533.7 1452.7 493.7 1453.5 470.0C1454.5 441.5 1455.5 418.9 1456.5 400.0C1457.3 384.3 1458.2 365.8 1459.0 360.0C1459.7 354.9 1460.5 350.0 1461.2 350.0" stroke="#0000ff" stroke-dasharray="12.61 11.41" stroke-dashoffset="6.30"/>
<path d="M1461.2 350.0C1461.9 350.0 1462.7 354.9 1463.4 360.0C1464.3 366.0 1465.1 382.8 1466.0 400.0C1466.8 416.6 1467.7 443.8 1468.5 470.0C1469.3 496.2 1470.2 531.8 1471.0 560.0C1471.8 588.2 1472.7 621.6 1473.5 640.0C1474.5 662.1 1475.5 678.6 1476.5 690.0C1477.7 703.3 1478.8 715.4 1480.0 720.0C1481.3 725.2 1482.7 730.0 1484.0 730.0C1485.3 730.0 1486.7 725.2 1488.0 720.0C1489.2 715.4 1490.3 702.5 1491.5 690.0C1492.7 677.5 1493.8 653.1 1495.0 640.0C1496.7 621.3 1498.3 602.4 1500.0 595.0C1502.3 584.6 1504.7 575.0 1507.0 575.0C1509.0 575.0 1511.0 581.7 1513.0 590.0C1514.3 595.6 1515.7 614.3 1517.0 630.0C1518.2 643.8 1519.3 665.1 1520.5 680.0C1521.5 692.8 1522.5 707.3 1523.5 715.0C1524.7 724.0 1525.8 735.0 1527.0 735.0C1527.8 735.0 1528.7 705.4 1529.5 680.0C1530.2 658.7 1530.9 614.2 1531.6 580.0C1532.3 547.5 1532.9 507.3 1533.6 480.0C1534.2 454.1 1534.9 442.6 1535.5 414.0C1536.0 391.4 1536.5 353.1 1537.0 320.0C1537.5 286.9 1538.0 240.8 1538.5 215.0C1539.2 180.6 1539.8 152.5 1540.5 135.0C1541.0 121.9 1541.5 110.1 1542.0 105.0C1542.4 100.6 1542.9 96.0 1543.3 96.0" stroke="#0000ff" stroke-dasharray="12.58 11.38" stroke-dashoffset="6.29"/>
<path d="M1543.3 96.0C1543.7 96.0 1544.2 100.5 1544.6 105.0C1545.1 109.9 1545.5 120.8 1546.0 135.0C1546.5 150.2 1547.0 184.7 1547.5 215.0C1548.0 245.3 1548.5 286.9 1549.0 320.0C1549.5 353.1 1550.0 387.0 1550.5 414.0C1551.0 441.0 1551.5 460.7 1552.0 485.0C1552.5 509.3 1553.0 540.3 1553.5 560.0C1554.1 583.7 1554.7 618.0 1555.3 618.0C1556.0 618.0 1556.8 587.9 1557.5 570.0C1558.3 549.6 1559.2 521.5 1560.0 500.0C1560.8 478.5 1561.7 452.7 1562.5 440.0C1563.3 427.3 1564.2 416.2 1565.0 412.0C1565.7 408.5 1566.4 405.0 1567.1 405.0" stroke="#0000ff" stroke-dasharray="12.47 11.28" stroke-dashoffset="6.23"/>
<path d="M1567.1 405.0C1567.9 405.0 1568.7 409.9 1569.5 415.0C1570.3 420.3 1571.2 436.3 1572.0 450.0C1572.8 463.7 1573.7 483.3 1574.5 500.0C1575.3 516.7 1576.2 533.3 1577.0 550.0C1578.0 570.0 1579.0 593.3 1580.0 610.0C1581.2 629.5 1582.3 648.1 1583.5 660.0C1585.0 675.3 1586.5 687.0 1588.0 695.0C1589.7 703.9 1591.3 711.5 1593.0 715.0C1596.3 721.9 1599.7 728.0 1603.0 728.0C1605.7 728.0 1608.3 725.0 1611.0 725.0C1614.4 725.0 1617.9 735.6 1621.3 735.6C1623.9 735.6 1626.4 731.6 1629.0 730.0C1631.5 728.5 1634.0 728.2 1636.5 726.0C1638.2 724.5 1639.9 718.3 1641.6 716.0C1642.9 714.3 1644.1 712.0 1645.4 712.0C1646.7 712.0 1647.9 717.3 1649.2 721.0C1650.9 726.0 1652.6 735.3 1654.3 741.0C1656.0 746.7 1657.7 754.0 1659.4 756.0C1661.1 758.0 1662.7 759.7 1664.4 759.7C1666.3 759.7 1668.1 754.6 1670.0 752.0C1672.5 748.6 1674.9 744.7 1677.4 741.8C1680.1 738.7 1682.7 736.0 1685.4 733.8C1688.6 731.1 1691.8 728.9 1695.0 727.0C1698.5 725.0 1701.9 724.2 1705.4 721.8C1708.9 719.4 1712.5 711.6 1716.0 709.8C1718.0 708.9 1720.0 708.6 1722.0 707.8C1724.6 706.9 1727.3 704.9 1730.0 704.9C1731.3 704.9 1732.6 713.8 1734.0 713.8C1736.0 713.8 1738.0 713.8 1740.0 713.8C1742.6 713.8 1745.3 709.7 1747.9 707.8C1749.9 706.4 1751.9 706.2 1753.9 703.9C1755.3 702.3 1756.6 696.1 1757.9 689.9C1758.6 686.7 1759.3 676.9 1759.9 676.9C1760.9 676.9 1761.9 677.9 1762.9 678.9C1763.9 679.9 1764.9 682.9 1765.9 685.9C1766.6 687.9 1767.3 690.3 1767.9 693.9C1768.6 697.4 1769.3 705.4 1769.9 709.8C1771.2 718.7 1772.6 724.5 1773.9 731.8C1775.2 739.1 1776.6 750.6 1777.9 753.8C1779.2 756.9 1780.6 759.8 1781.9 759.8C1783.6 759.8 1785.2 758.5 1786.9 756.8C1787.9 755.7 1788.9 747.8 1789.9 747.8C1792.6 747.8 1795.2 750.8 1797.9 750.8C1799.5 750.8 1801.2 750.0 1802.9 748.8C1803.9 748.1 1804.9 744.4 1805.9 742.8C1807.2 740.7 1808.5 737.8 1809.9 737.8C1811.2 737.8 1812.5 738.3 1813.9 738.8C1815.9 739.6 1817.8 743.8 1819.8 744.8C1821.8 745.8 1823.8 746.0 1825.8 746.8C1827.8 747.6 1829.8 749.0 1831.8 749.8C1833.8 750.6 1835.8 751.8 1837.8 751.8C1840.5 751.8 1843.1 751.8 1845.8 751.8C1847.8 751.8 1849.8 748.8 1851.8 748.8C1853.1 748.8 1854.5 750.8 1855.8 751.8C1857.5 753.1 1859.1 755.8 1860.8 755.8C1862.1 755.8 1863.5 754.6 1864.8 752.8C1865.8 751.4 1866.8 743.5 1867.8 737.8C1868.8 732.1 1869.8 722.0 1870.8 717.8C1872.1 712.2 1873.4 705.9 1874.8 705.9C1876.4 705.9 1878.1 710.1 1879.8 713.8C1881.1 716.8 1882.4 724.4 1883.8 727.8C1885.1 731.2 1886.4 734.0 1887.8 735.8C1889.1 737.6 1890.4 739.2 1891.7 739.8" stroke="#0000ff" stroke-dasharray="12.60 11.40" stroke-dashoffset="6.30"/>
<path d="M1901.1 741.1L1914.7 739.2M1922.3 737.7L1935.1 740.0M1945.6 739.5L1958.5 740.0M1963.8 735.5L1975.8 733.2M1986.4 736.5L1999.2 734.4M2009.0 727.9L2022.6 737.0M2027.1 727.2L2039.2 724.4M2046.0 732.4L2058.8 729.4M2067.1 729.9L2080.7 732.4M2085.3 734.0L2098.1 736.2M2105.6 730.2L2119.2 735.5M2127.5 733.2L2141.1 737.0M2150.9 732.0L2164.5 736.2M2173.5 726.0L2187.1 731.0M2193.9 727.5L2207.5 734.0" stroke="#0000ff"/>
</g>
<use href="#BD" x="1.1" y="0"/>
<use href="#BD" x="-1.1" y="0"/>
<use href="#BD" x="0" y="1.1"/>
<use href="#BD" x="0" y="-1.1"/>
</g>
<g stroke="#000" stroke-width="5.8" fill="none" stroke-linecap="butt">
<path d="M397.3 14.5V788.05"/>
<path d="M394.40000000000003 785.4H2213.1000000000004" stroke-width="5.3"/>
<path d="M375.2 75.0H397.3" stroke-width="5.4"/>
<path d="M375.2 251.3H397.3" stroke-width="5.4"/>
<path d="M375.2 427.4H397.3" stroke-width="5.4"/>
<path d="M375.2 603.3H397.3" stroke-width="5.4"/>
<path d="M375.2 779.9H397.3" stroke-width="5.4"/>
<path d="M385.6 163.2H397.3" stroke-width="5.4"/>
<path d="M385.6 339.4H397.3" stroke-width="5.4"/>
<path d="M385.6 515.3H397.3" stroke-width="5.4"/>
<path d="M385.6 691.6H397.3" stroke-width="5.4"/>
<path d="M397.3 785.4V795" stroke-width="5.6"/>
<path d="M1001.6 785.4V806.4" stroke-width="5.6"/>
<path d="M1605.9 785.4V795" stroke-width="5.6"/>
<path d="M2210.3 785.4V806.4" stroke-width="5.6"/>
</g>
<g font-size="73.3px">
<text x="335.8" y="102.3" text-anchor="end">6.00x10</text>
<text x="336.3" y="72.4" font-size="49.5px">6</text>
<text x="335.8" y="278.6" text-anchor="end">4.50x10</text>
<text x="336.3" y="248.7" font-size="49.5px">6</text>
<text x="335.8" y="454.7" text-anchor="end">3.00x10</text>
<text x="336.3" y="424.8" font-size="49.5px">6</text>
<text x="335.8" y="630.6" text-anchor="end">1.50x10</text>
<text x="336.3" y="600.7" font-size="49.5px">6</text>
<text x="359.3" y="800.3" text-anchor="end">0.00</text>
<text x="1002.3" y="878.6" text-anchor="middle">10</text>
<text x="2210.6" y="878.6" text-anchor="middle">20</text>
</g>
<text x="1304.2" y="998.4" font-size="78.6px" text-anchor="middle">Time (s)</text>
<text transform="translate(70 401.5) rotate(-90)" font-size="79px" text-anchor="middle">Kinetic energy (J)</text>
<g font-size="62.2px">
<path d="M1636.5 51.7H1782" stroke="#000000" stroke-width="5.8" fill="none"/>
<text x="1795" y="72.3">VII-unreinforced</text>
<path d="M1636.5 129.3H1782" stroke="#ff0000" stroke-width="5.8" fill="none"/>
<text x="1795" y="149.9">VIII-unreinforced</text>
<path d="M1636.5 206.7H1782" stroke="#009200" stroke-width="5.8" fill="none"/>
<text x="1795" y="227.3">IX-unreinforced</text>
<path d="M1636.5 284.4H1782" stroke="#0000ff" stroke-width="5.8" fill="none"/>
<text x="1795" y="305.0">X-unreinforced</text>
<path d="M1636.5 361.8H1771" stroke="#000000" stroke-width="6" stroke-dasharray="14.2 9.8" fill="none"/>
<text x="1795" y="382.4">VII-reinforced</text>
<path d="M1636.5 439.0H1771" stroke="#ff0000" stroke-width="6" stroke-dasharray="14.2 9.8" fill="none"/>
<text x="1795" y="459.6">VIII-reinforced</text>
<path d="M1636.5 516.2H1771" stroke="#009200" stroke-width="6" stroke-dasharray="14.2 9.8" fill="none"/>
<text x="1795" y="536.8">IX-reinforced</text>
<path d="M1636.5 592.8H1771" stroke="#0000ff" stroke-width="6" stroke-dasharray="14.2 9.8" fill="none"/>
<text x="1795" y="613.4">X-reinforced</text>
</g>
</svg></body></html>
